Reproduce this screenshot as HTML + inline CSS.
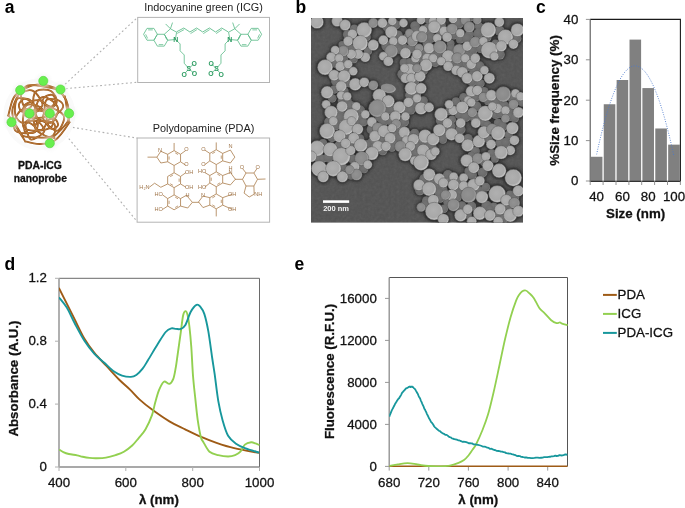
<!DOCTYPE html>
<html><head><meta charset="utf-8"><style>
html,body{margin:0;padding:0;background:#fff;width:685px;height:508px;overflow:hidden;}
svg{display:block;will-change:transform;}
text.t{stroke:#111;stroke-width:0.28px;}
</style></head><body>
<svg width="685" height="508" viewBox="0 0 685 508" font-family="Liberation Sans, sans-serif">
<text x="4.8" y="12.9" font-family="Liberation Sans, sans-serif" font-weight="bold" font-size="17.5" fill="#000">a</text>
<text x="295.6" y="12.9" font-family="Liberation Sans, sans-serif" font-weight="bold" font-size="17.5" fill="#000">b</text>
<text x="536" y="12.9" font-family="Liberation Sans, sans-serif" font-weight="bold" font-size="17.5" fill="#000">c</text>
<text x="4.6" y="269.7" font-family="Liberation Sans, sans-serif" font-weight="bold" font-size="17.5" fill="#000">d</text>
<text x="294.6" y="269.8" font-family="Liberation Sans, sans-serif" font-weight="bold" font-size="17.5" fill="#000">e</text>
<line x1="65.1" y1="84.2" x2="137.5" y2="17.5" stroke="#b0b0b0" stroke-width="1.1" stroke-dasharray="1.8 2.5"/>
<line x1="65.9" y1="88.6" x2="137.5" y2="82.3" stroke="#b0b0b0" stroke-width="1.1" stroke-dasharray="1.8 2.5"/>
<line x1="68.6" y1="126.7" x2="137.5" y2="138.2" stroke="#b0b0b0" stroke-width="1.1" stroke-dasharray="1.8 2.5"/>
<line x1="63.3" y1="132" x2="137.5" y2="222" stroke="#b0b0b0" stroke-width="1.1" stroke-dasharray="1.8 2.5"/>
<rect x="137.7" y="17.4" width="131.8" height="65.1" fill="#fff" stroke="#b4b4b4" stroke-width="1"/>
<rect x="137.1" y="138" width="132.5" height="84.2" fill="#fff" stroke="#b4b4b4" stroke-width="1"/>
<text x="203.5" y="11.4" font-family="Liberation Sans, sans-serif" font-size="10.85" fill="#222" text-anchor="middle">Indocyanine green (ICG)</text>
<text x="203.5" y="131.6" font-family="Liberation Sans, sans-serif" font-size="10.9" fill="#222" text-anchor="middle">Polydopamine (PDA)</text>
<text x="40" y="168.8" font-family="Liberation Sans, sans-serif" font-weight="bold" font-size="10.4" fill="#111" class="t" text-anchor="middle">PDA-ICG</text>
<text x="40.3" y="181.8" font-family="Liberation Sans, sans-serif" font-weight="bold" font-size="10.3" fill="#111" class="t" text-anchor="middle">nanoprobe</text>
<circle cx="39.4" cy="114.2" r="36.0" fill="#fafafa"/>
<circle cx="39.4" cy="114.2" r="32.0" fill="#fffefd"/>
<g fill="none"><path d="M40.9,144.0 C36.1,144.3 29.5,142.5 26.6,141.6 C23.8,140.8 26.6,143.1 23.8,139.0 C21.0,134.9 12.4,121.2 9.8,117.1 C7.3,113.0 7.9,117.8 8.6,114.5 C9.3,111.3 11.3,101.8 13.8,97.5 C16.4,93.1 21.0,90.3 23.9,88.2 C26.7,86.2 25.5,85.0 30.9,85.2 C36.3,85.3 50.7,87.3 56.2,89.3 C61.8,91.2 62.9,95.5 64.4,97.0 C65.8,98.4 64.5,94.1 65.2,98.0 C65.9,101.9 68.0,115.9 68.6,120.2 C69.1,124.5 70.8,120.4 68.5,123.7 C66.3,127.1 59.7,136.9 55.0,140.3 C50.4,143.6 45.6,143.8 40.9,144.0Z" stroke="#9a5518" stroke-width="1.85"/><path d="M63.7,96.1 C65.9,99.0 66.9,100.7 67.7,104.7 C68.5,108.8 70.6,115.1 68.4,120.4 C66.1,125.7 56.8,133.6 54.1,136.4 C51.5,139.3 57.2,137.6 52.4,137.7 C47.6,137.7 31.1,137.8 25.5,136.6 C20.0,135.5 21.2,133.4 19.1,130.6 C17.1,127.7 14.6,123.4 13.5,119.6 C12.5,115.8 11.5,112.4 12.8,107.7 C14.2,103.0 17.6,95.2 21.6,91.4 C25.6,87.5 31.3,85.2 36.7,84.6 C42.1,84.0 49.8,85.8 54.3,87.7 C58.8,89.7 61.4,93.3 63.7,96.1Z" stroke="#9a5518" stroke-width="1.85"/><path d="M49.2,107.9 C52.7,107.4 62.6,112.2 63.9,116.0 C65.2,119.8 60.4,130.3 57.0,130.8 C53.6,131.3 44.7,122.9 43.4,119.1 C42.1,115.3 45.8,108.4 49.2,107.9Z" stroke="#9a5518" stroke-width="1.85"/><path d="M53.4,123.1 C56.1,124.9 55.7,130.3 54.8,132.6 C54.0,134.9 51.5,137.3 48.3,136.8 C45.1,136.2 37.2,131.9 35.6,129.3 C34.1,126.8 35.9,122.5 38.8,121.4 C41.8,120.4 50.7,121.2 53.4,123.1Z" stroke="#9a5518" stroke-width="1.85"/><path d="M25.7,123.1 C26.7,120.8 31.4,120.4 33.8,120.5 C36.3,120.6 38.7,121.6 40.3,123.5 C42.0,125.4 45.4,129.2 44.0,131.9 C42.5,134.6 34.4,139.3 31.7,139.6 C29.0,140.0 28.8,136.9 27.8,134.1 C26.8,131.4 24.7,125.4 25.7,123.1Z" stroke="#9a5518" stroke-width="1.85"/><path d="M17.2,132.0 C13.6,130.4 13.0,125.1 14.0,121.3 C15.0,117.5 19.3,110.2 23.0,109.2 C26.8,108.3 34.4,112.1 36.4,115.8 C38.5,119.4 38.6,128.5 35.4,131.2 C32.2,133.9 20.8,133.7 17.2,132.0Z" stroke="#9a5518" stroke-width="1.85"/><path d="M17.3,98.9 C19.7,96.5 26.5,98.7 29.4,100.6 C32.4,102.6 36.0,107.0 35.1,110.6 C34.1,114.3 26.9,122.0 23.6,122.7 C20.3,123.5 16.4,118.9 15.3,115.0 C14.3,111.0 15.0,101.3 17.3,98.9Z" stroke="#9a5518" stroke-width="1.85"/><path d="M42.4,105.5 C41.4,108.7 30.6,111.9 27.1,110.1 C23.6,108.3 20.2,97.7 21.2,94.5 C22.2,91.3 29.5,89.0 33.0,90.9 C36.6,92.7 43.4,102.3 42.4,105.5Z" stroke="#9a5518" stroke-width="1.85"/><path d="M44.2,111.6 C40.4,111.8 35.0,107.4 33.7,103.9 C32.4,100.5 33.6,93.2 36.4,91.0 C39.3,88.9 47.6,89.0 51.0,91.0 C54.3,92.9 57.7,99.1 56.6,102.6 C55.4,106.0 48.0,111.4 44.2,111.6Z" stroke="#9a5518" stroke-width="1.85"/><path d="M47.5,99.4 C49.8,98.6 56.2,99.2 58.8,100.5 C61.4,101.8 63.6,104.7 63.1,107.0 C62.6,109.4 58.5,113.2 55.7,114.6 C52.9,116.0 48.0,116.9 46.1,115.4 C44.3,113.8 44.6,107.8 44.8,105.2 C45.1,102.5 45.2,100.2 47.5,99.4Z" stroke="#9a5518" stroke-width="1.85"/><path d="M51.8,126.3 C49.4,129.3 39.6,131.6 36.8,129.3 C33.9,127.1 32.3,116.0 34.6,112.9 C37.0,109.9 48.2,108.8 51.0,111.0 C53.9,113.2 54.2,123.2 51.8,126.3Z" stroke="#9a5518" stroke-width="1.85"/><path d="M41.8,129.9 C38.1,131.6 27.8,130.6 24.7,128.5 C21.6,126.4 22.8,121.3 23.2,117.4 C23.5,113.5 23.9,106.9 26.7,105.2 C29.5,103.4 36.6,104.7 39.9,106.9 C43.3,109.0 46.4,114.4 46.7,118.3 C47.0,122.1 45.4,128.2 41.8,129.9Z" stroke="#9a5518" stroke-width="1.85"/><path d="M45.4,116.6 C41.9,118.2 30.0,118.6 26.5,116.7 C23.0,114.8 22.5,108.0 24.5,105.3 C26.5,102.5 34.8,99.9 38.7,100.2 C42.6,100.6 46.5,104.7 47.6,107.5 C48.8,110.2 49.0,115.1 45.4,116.6Z" stroke="#9a5518" stroke-width="1.85"/><path d="M58.0,108.1 C58.9,112.3 54.7,120.6 51.6,122.5 C48.4,124.4 41.8,120.6 39.1,119.3 C36.5,117.9 35.8,117.5 35.7,114.5 C35.5,111.4 36.4,103.7 38.2,100.8 C39.9,98.0 42.8,96.0 46.2,97.3 C49.5,98.5 57.1,103.9 58.0,108.1Z" stroke="#9a5518" stroke-width="1.85"/><path d="M58.0,125.2 C57.7,126.8 55.0,128.5 53.5,128.8 C52.0,129.1 49.7,128.6 48.8,127.1 C48.0,125.5 47.3,121.1 48.4,119.8 C49.5,118.5 53.7,118.5 55.3,119.4 C56.9,120.3 58.3,123.7 58.0,125.2Z" stroke="#9a5518" stroke-width="1.85"/><path d="M24.7,125.9 C25.2,124.3 26.7,122.4 28.5,122.7 C30.3,122.9 34.5,125.9 35.4,127.5 C36.4,129.1 36.0,131.6 34.4,132.4 C32.7,133.2 27.2,133.3 25.6,132.3 C24.0,131.2 24.3,127.5 24.7,125.9Z" stroke="#9a5518" stroke-width="1.85"/><path d="M18.9,104.8 C19.2,102.7 22.0,99.5 23.9,98.8 C25.9,98.1 29.5,99.3 30.7,100.6 C31.9,101.8 32.7,104.5 31.3,106.3 C29.8,108.1 24.2,111.7 22.2,111.5 C20.1,111.2 18.7,106.9 18.9,104.8Z" stroke="#9a5518" stroke-width="1.85"/><path d="M55.3,100.3 C55.1,102.2 53.1,106.4 51.1,106.7 C49.0,107.0 44.1,103.8 43.1,102.2 C42.1,100.5 43.5,97.9 45.1,96.7 C46.6,95.5 50.4,94.3 52.1,94.9 C53.8,95.5 55.5,98.3 55.3,100.3Z" stroke="#9a5518" stroke-width="1.85"/><path d="M40.9,144.0 C36.1,144.3 29.5,142.5 26.6,141.6 C23.8,140.8 26.6,143.1 23.8,139.0 C21.0,134.9 12.4,121.2 9.8,117.1 C7.3,113.0 7.9,117.8 8.6,114.5 C9.3,111.3 11.3,101.8 13.8,97.5 C16.4,93.1 21.0,90.3 23.9,88.2 C26.7,86.2 25.5,85.0 30.9,85.2 C36.3,85.3 50.7,87.3 56.2,89.3 C61.8,91.2 62.9,95.5 64.4,97.0 C65.8,98.4 64.5,94.1 65.2,98.0 C65.9,101.9 68.0,115.9 68.6,120.2 C69.1,124.5 70.8,120.4 68.5,123.7 C66.3,127.1 59.7,136.9 55.0,140.3 C50.4,143.6 45.6,143.8 40.9,144.0Z" stroke="#c8894a" stroke-width="0.6"/><path d="M63.7,96.1 C65.9,99.0 66.9,100.7 67.7,104.7 C68.5,108.8 70.6,115.1 68.4,120.4 C66.1,125.7 56.8,133.6 54.1,136.4 C51.5,139.3 57.2,137.6 52.4,137.7 C47.6,137.7 31.1,137.8 25.5,136.6 C20.0,135.5 21.2,133.4 19.1,130.6 C17.1,127.7 14.6,123.4 13.5,119.6 C12.5,115.8 11.5,112.4 12.8,107.7 C14.2,103.0 17.6,95.2 21.6,91.4 C25.6,87.5 31.3,85.2 36.7,84.6 C42.1,84.0 49.8,85.8 54.3,87.7 C58.8,89.7 61.4,93.3 63.7,96.1Z" stroke="#c8894a" stroke-width="0.6"/><path d="M49.2,107.9 C52.7,107.4 62.6,112.2 63.9,116.0 C65.2,119.8 60.4,130.3 57.0,130.8 C53.6,131.3 44.7,122.9 43.4,119.1 C42.1,115.3 45.8,108.4 49.2,107.9Z" stroke="#c8894a" stroke-width="0.6"/><path d="M53.4,123.1 C56.1,124.9 55.7,130.3 54.8,132.6 C54.0,134.9 51.5,137.3 48.3,136.8 C45.1,136.2 37.2,131.9 35.6,129.3 C34.1,126.8 35.9,122.5 38.8,121.4 C41.8,120.4 50.7,121.2 53.4,123.1Z" stroke="#c8894a" stroke-width="0.6"/><path d="M25.7,123.1 C26.7,120.8 31.4,120.4 33.8,120.5 C36.3,120.6 38.7,121.6 40.3,123.5 C42.0,125.4 45.4,129.2 44.0,131.9 C42.5,134.6 34.4,139.3 31.7,139.6 C29.0,140.0 28.8,136.9 27.8,134.1 C26.8,131.4 24.7,125.4 25.7,123.1Z" stroke="#c8894a" stroke-width="0.6"/><path d="M17.2,132.0 C13.6,130.4 13.0,125.1 14.0,121.3 C15.0,117.5 19.3,110.2 23.0,109.2 C26.8,108.3 34.4,112.1 36.4,115.8 C38.5,119.4 38.6,128.5 35.4,131.2 C32.2,133.9 20.8,133.7 17.2,132.0Z" stroke="#c8894a" stroke-width="0.6"/><path d="M17.3,98.9 C19.7,96.5 26.5,98.7 29.4,100.6 C32.4,102.6 36.0,107.0 35.1,110.6 C34.1,114.3 26.9,122.0 23.6,122.7 C20.3,123.5 16.4,118.9 15.3,115.0 C14.3,111.0 15.0,101.3 17.3,98.9Z" stroke="#c8894a" stroke-width="0.6"/><path d="M42.4,105.5 C41.4,108.7 30.6,111.9 27.1,110.1 C23.6,108.3 20.2,97.7 21.2,94.5 C22.2,91.3 29.5,89.0 33.0,90.9 C36.6,92.7 43.4,102.3 42.4,105.5Z" stroke="#c8894a" stroke-width="0.6"/><path d="M44.2,111.6 C40.4,111.8 35.0,107.4 33.7,103.9 C32.4,100.5 33.6,93.2 36.4,91.0 C39.3,88.9 47.6,89.0 51.0,91.0 C54.3,92.9 57.7,99.1 56.6,102.6 C55.4,106.0 48.0,111.4 44.2,111.6Z" stroke="#c8894a" stroke-width="0.6"/><path d="M47.5,99.4 C49.8,98.6 56.2,99.2 58.8,100.5 C61.4,101.8 63.6,104.7 63.1,107.0 C62.6,109.4 58.5,113.2 55.7,114.6 C52.9,116.0 48.0,116.9 46.1,115.4 C44.3,113.8 44.6,107.8 44.8,105.2 C45.1,102.5 45.2,100.2 47.5,99.4Z" stroke="#c8894a" stroke-width="0.6"/><path d="M51.8,126.3 C49.4,129.3 39.6,131.6 36.8,129.3 C33.9,127.1 32.3,116.0 34.6,112.9 C37.0,109.9 48.2,108.8 51.0,111.0 C53.9,113.2 54.2,123.2 51.8,126.3Z" stroke="#c8894a" stroke-width="0.6"/><path d="M41.8,129.9 C38.1,131.6 27.8,130.6 24.7,128.5 C21.6,126.4 22.8,121.3 23.2,117.4 C23.5,113.5 23.9,106.9 26.7,105.2 C29.5,103.4 36.6,104.7 39.9,106.9 C43.3,109.0 46.4,114.4 46.7,118.3 C47.0,122.1 45.4,128.2 41.8,129.9Z" stroke="#c8894a" stroke-width="0.6"/><path d="M45.4,116.6 C41.9,118.2 30.0,118.6 26.5,116.7 C23.0,114.8 22.5,108.0 24.5,105.3 C26.5,102.5 34.8,99.9 38.7,100.2 C42.6,100.6 46.5,104.7 47.6,107.5 C48.8,110.2 49.0,115.1 45.4,116.6Z" stroke="#c8894a" stroke-width="0.6"/><path d="M58.0,108.1 C58.9,112.3 54.7,120.6 51.6,122.5 C48.4,124.4 41.8,120.6 39.1,119.3 C36.5,117.9 35.8,117.5 35.7,114.5 C35.5,111.4 36.4,103.7 38.2,100.8 C39.9,98.0 42.8,96.0 46.2,97.3 C49.5,98.5 57.1,103.9 58.0,108.1Z" stroke="#c8894a" stroke-width="0.6"/><path d="M58.0,125.2 C57.7,126.8 55.0,128.5 53.5,128.8 C52.0,129.1 49.7,128.6 48.8,127.1 C48.0,125.5 47.3,121.1 48.4,119.8 C49.5,118.5 53.7,118.5 55.3,119.4 C56.9,120.3 58.3,123.7 58.0,125.2Z" stroke="#c8894a" stroke-width="0.6"/><path d="M24.7,125.9 C25.2,124.3 26.7,122.4 28.5,122.7 C30.3,122.9 34.5,125.9 35.4,127.5 C36.4,129.1 36.0,131.6 34.4,132.4 C32.7,133.2 27.2,133.3 25.6,132.3 C24.0,131.2 24.3,127.5 24.7,125.9Z" stroke="#c8894a" stroke-width="0.6"/><path d="M18.9,104.8 C19.2,102.7 22.0,99.5 23.9,98.8 C25.9,98.1 29.5,99.3 30.7,100.6 C31.9,101.8 32.7,104.5 31.3,106.3 C29.8,108.1 24.2,111.7 22.2,111.5 C20.1,111.2 18.7,106.9 18.9,104.8Z" stroke="#c8894a" stroke-width="0.6"/><path d="M55.3,100.3 C55.1,102.2 53.1,106.4 51.1,106.7 C49.0,107.0 44.1,103.8 43.1,102.2 C42.1,100.5 43.5,97.9 45.1,96.7 C46.6,95.5 50.4,94.3 52.1,94.9 C53.8,95.5 55.5,98.3 55.3,100.3Z" stroke="#c8894a" stroke-width="0.6"/></g>
<circle cx="43.3" cy="80.9" r="7.5" fill="#f3f3f3" opacity="0.55" filter="url(#blur1)"/>
<circle cx="43.3" cy="80.9" r="4.6" fill="#68ef4e" stroke="#50d23a" stroke-width="0.6"/>
<circle cx="20.2" cy="90.2" r="7.5" fill="#f3f3f3" opacity="0.55" filter="url(#blur1)"/>
<circle cx="20.2" cy="90.2" r="4.6" fill="#68ef4e" stroke="#50d23a" stroke-width="0.6"/>
<circle cx="60.5" cy="89.5" r="7.5" fill="#f3f3f3" opacity="0.55" filter="url(#blur1)"/>
<circle cx="60.5" cy="89.5" r="4.6" fill="#68ef4e" stroke="#50d23a" stroke-width="0.6"/>
<circle cx="29.5" cy="113.4" r="7.5" fill="#f3f3f3" opacity="0.55" filter="url(#blur1)"/>
<circle cx="29.5" cy="113.4" r="4.6" fill="#68ef4e" stroke="#50d23a" stroke-width="0.6"/>
<circle cx="49.8" cy="113.4" r="7.5" fill="#f3f3f3" opacity="0.55" filter="url(#blur1)"/>
<circle cx="49.8" cy="113.4" r="4.6" fill="#68ef4e" stroke="#50d23a" stroke-width="0.6"/>
<circle cx="69.1" cy="113.4" r="7.5" fill="#f3f3f3" opacity="0.55" filter="url(#blur1)"/>
<circle cx="69.1" cy="113.4" r="4.6" fill="#68ef4e" stroke="#50d23a" stroke-width="0.6"/>
<circle cx="11.5" cy="122.2" r="7.5" fill="#f3f3f3" opacity="0.55" filter="url(#blur1)"/>
<circle cx="11.5" cy="122.2" r="4.6" fill="#68ef4e" stroke="#50d23a" stroke-width="0.6"/>
<circle cx="49.8" cy="143.2" r="7.5" fill="#f3f3f3" opacity="0.55" filter="url(#blur1)"/>
<circle cx="49.8" cy="143.2" r="4.6" fill="#68ef4e" stroke="#50d23a" stroke-width="0.6"/>
<path d="M143.58,34.29 L147.02,28.37 L153.91,28.37 L157.36,34.29 L153.91,40.22 L147.02,40.22 Z" fill="none" stroke="#5dbb8a" stroke-width="0.83" stroke-linejoin="round"/>
<path d="M157.36,34.29 L164.25,34.29 L167.69,40.22 L164.25,46.14 L157.36,46.14 L153.91,40.22 Z" fill="none" stroke="#5dbb8a" stroke-width="0.83" stroke-linejoin="round"/>
<path d="M164.25,34.29 L170.45,28.78 L176.65,32.22 L175.27,39.53 L167.69,40.22 Z" fill="none" stroke="#5dbb8a" stroke-width="0.83" stroke-linejoin="round"/>
<path d="M148.13,29.88 L152.81,29.88" fill="none" stroke="#5dbb8a" stroke-width="0.77" stroke-linejoin="round"/>
<path d="M145.65,34.29 L147.58,38.43" fill="none" stroke="#5dbb8a" stroke-width="0.77" stroke-linejoin="round"/>
<path d="M158.74,44.63 L163.28,44.63" fill="none" stroke="#5dbb8a" stroke-width="0.77" stroke-linejoin="round"/>
<path d="M165.21,35.67 L166.59,39.25" fill="none" stroke="#5dbb8a" stroke-width="0.77" stroke-linejoin="round"/>
<path d="M165.63,23.96 L170.45,28.78 L172.52,22.58" fill="none" stroke="#5dbb8a" stroke-width="0.83" stroke-linejoin="round"/>
<path d="M175.96,39.80 L180.10,43.94 L180.10,50.83 L184.23,54.96 L184.23,63.23 L188.36,68.05" fill="none" stroke="#5dbb8a" stroke-width="0.83" stroke-linejoin="round"/>
<path d="M189.47,68.05 L193.60,63.92" fill="none" stroke="#5dbb8a" stroke-width="0.83" stroke-linejoin="round"/>
<path d="M189.47,69.43 L193.60,72.88" fill="none" stroke="#5dbb8a" stroke-width="0.83" stroke-linejoin="round"/>
<path d="M188.36,69.43 L185.33,72.88" fill="none" stroke="#5dbb8a" stroke-width="0.83" stroke-linejoin="round"/>
<text x="175.7" y="42.3" font-family="Liberation Sans, sans-serif" font-weight="bold" font-size="6.9" fill="#2f9d63" text-anchor="middle">N</text>
<text x="188.9" y="71.4" font-family="Liberation Sans, sans-serif" font-weight="bold" font-size="6.9" fill="#2f9d63" text-anchor="middle">S</text>
<text x="194.2" y="65.8" font-family="Liberation Sans, sans-serif" font-weight="bold" font-size="6.9" fill="#2f9d63" text-anchor="middle">O</text>
<text x="194.5" y="76.2" font-family="Liberation Sans, sans-serif" font-weight="bold" font-size="6.9" fill="#2f9d63" text-anchor="middle">O</text>
<text x="184.3" y="76.8" font-family="Liberation Sans, sans-serif" font-weight="bold" font-size="6.9" fill="#2f9d63" text-anchor="middle">O</text>
<path d="M261.62,34.29 L258.18,28.37 L251.29,28.37 L247.84,34.29 L251.29,40.22 L258.18,40.22 Z" fill="none" stroke="#5dbb8a" stroke-width="0.83" stroke-linejoin="round"/>
<path d="M247.84,34.29 L240.95,34.29 L237.51,40.22 L240.95,46.14 L247.84,46.14 L251.29,40.22 Z" fill="none" stroke="#5dbb8a" stroke-width="0.83" stroke-linejoin="round"/>
<path d="M240.95,34.29 L234.75,28.78 L228.55,32.22 L229.93,39.53 L237.51,40.22 Z" fill="none" stroke="#5dbb8a" stroke-width="0.83" stroke-linejoin="round"/>
<path d="M257.07,29.88 L252.39,29.88" fill="none" stroke="#5dbb8a" stroke-width="0.77" stroke-linejoin="round"/>
<path d="M259.55,34.29 L257.62,38.43" fill="none" stroke="#5dbb8a" stroke-width="0.77" stroke-linejoin="round"/>
<path d="M246.46,44.63 L241.92,44.63" fill="none" stroke="#5dbb8a" stroke-width="0.77" stroke-linejoin="round"/>
<path d="M239.99,35.67 L238.61,39.25" fill="none" stroke="#5dbb8a" stroke-width="0.77" stroke-linejoin="round"/>
<path d="M239.57,23.96 L234.75,28.78 L232.68,22.58" fill="none" stroke="#5dbb8a" stroke-width="0.83" stroke-linejoin="round"/>
<path d="M229.24,39.80 L225.10,43.94 L225.10,50.83 L220.97,54.96 L220.97,63.23 L216.84,68.05" fill="none" stroke="#5dbb8a" stroke-width="0.83" stroke-linejoin="round"/>
<path d="M215.73,68.05 L211.60,63.92" fill="none" stroke="#5dbb8a" stroke-width="0.83" stroke-linejoin="round"/>
<path d="M215.73,69.43 L211.60,72.88" fill="none" stroke="#5dbb8a" stroke-width="0.83" stroke-linejoin="round"/>
<path d="M216.84,69.43 L219.87,72.88" fill="none" stroke="#5dbb8a" stroke-width="0.83" stroke-linejoin="round"/>
<text x="229.7" y="42.3" font-family="Liberation Sans, sans-serif" font-weight="bold" font-size="6.9" fill="#2f9d63" text-anchor="middle">N</text>
<text x="216.5" y="71.4" font-family="Liberation Sans, sans-serif" font-weight="bold" font-size="6.9" fill="#2f9d63" text-anchor="middle">S</text>
<text x="211.2" y="65.8" font-family="Liberation Sans, sans-serif" font-weight="bold" font-size="6.9" fill="#2f9d63" text-anchor="middle">O</text>
<text x="210.9" y="76.2" font-family="Liberation Sans, sans-serif" font-weight="bold" font-size="6.9" fill="#2f9d63" text-anchor="middle">O</text>
<text x="221.1" y="76.8" font-family="Liberation Sans, sans-serif" font-weight="bold" font-size="6.9" fill="#2f9d63" text-anchor="middle">O</text>
<path d="M176.60,31.80 L183.80,28.00 L189.90,32.00 L196.60,28.00 L202.70,32.00 L209.40,28.00 L215.50,32.00 L221.70,28.00 L228.40,32.00" fill="none" stroke="#5dbb8a" stroke-width="0.88" stroke-linejoin="round"/>
<path d="M177.20,33.40 L184.10,29.60" fill="none" stroke="#5dbb8a" stroke-width="0.77" stroke-linejoin="round"/>
<path d="M190.50,33.60 L196.90,29.60" fill="none" stroke="#5dbb8a" stroke-width="0.77" stroke-linejoin="round"/>
<path d="M203.30,33.60 L209.70,29.60" fill="none" stroke="#5dbb8a" stroke-width="0.77" stroke-linejoin="round"/>
<path d="M216.10,33.60 L222.00,29.60" fill="none" stroke="#5dbb8a" stroke-width="0.77" stroke-linejoin="round"/>
<path d="M174.10,165.48 L167.65,161.76 L167.65,154.32 L174.10,150.59 L180.55,154.32 L180.55,161.76 Z" fill="none" stroke="#ad8152" stroke-width="0.83" stroke-linejoin="round"/>
<path d="M174.10,187.63 L167.65,183.91 L167.65,176.47 L174.10,172.75 L180.55,176.47 L180.55,183.91 Z" fill="none" stroke="#ad8152" stroke-width="0.83" stroke-linejoin="round"/>
<path d="M174.10,209.78 L167.65,206.06 L167.65,198.62 L174.10,194.90 L180.55,198.62 L180.55,206.06 Z" fill="none" stroke="#ad8152" stroke-width="0.83" stroke-linejoin="round"/>
<path d="M169.07,159.66 L169.07,156.41" fill="none" stroke="#ad8152" stroke-width="0.77" stroke-linejoin="round"/>
<path d="M175.21,152.87 L178.02,154.50" fill="none" stroke="#ad8152" stroke-width="0.77" stroke-linejoin="round"/>
<path d="M172.99,185.36 L170.18,183.73" fill="none" stroke="#ad8152" stroke-width="0.77" stroke-linejoin="round"/>
<path d="M170.18,176.65 L172.99,175.02" fill="none" stroke="#ad8152" stroke-width="0.77" stroke-linejoin="round"/>
<path d="M179.13,178.56 L179.13,181.81" fill="none" stroke="#ad8152" stroke-width="0.77" stroke-linejoin="round"/>
<path d="M169.07,203.97 L169.07,200.71" fill="none" stroke="#ad8152" stroke-width="0.77" stroke-linejoin="round"/>
<path d="M175.21,197.17 L178.02,198.80" fill="none" stroke="#ad8152" stroke-width="0.77" stroke-linejoin="round"/>
<path d="M178.02,205.88 L175.21,207.51" fill="none" stroke="#ad8152" stroke-width="0.77" stroke-linejoin="round"/>
<path d="M212.33,153.59 L215.14,151.97" fill="none" stroke="#ad8152" stroke-width="0.77" stroke-linejoin="round"/>
<path d="M221.27,155.50 L221.27,158.75" fill="none" stroke="#ad8152" stroke-width="0.77" stroke-linejoin="round"/>
<path d="M211.22,180.88 L211.22,177.63" fill="none" stroke="#ad8152" stroke-width="0.77" stroke-linejoin="round"/>
<path d="M217.35,174.09 L220.16,175.72" fill="none" stroke="#ad8152" stroke-width="0.77" stroke-linejoin="round"/>
<path d="M220.16,182.79 L217.35,184.42" fill="none" stroke="#ad8152" stroke-width="0.77" stroke-linejoin="round"/>
<path d="M215.14,206.54 L212.33,204.92" fill="none" stroke="#ad8152" stroke-width="0.77" stroke-linejoin="round"/>
<path d="M212.33,197.85 L215.14,196.22" fill="none" stroke="#ad8152" stroke-width="0.77" stroke-linejoin="round"/>
<path d="M221.27,199.76 L221.27,203.01" fill="none" stroke="#ad8152" stroke-width="0.77" stroke-linejoin="round"/>
<path d="M167.72,154.32 L160.81,151.30 L156.91,157.15 L160.81,163.00 L167.72,161.76" fill="none" stroke="#ad8152" stroke-width="0.83" stroke-linejoin="round"/>
<path d="M147.52,157.15 L156.91,157.15" fill="none" stroke="#ad8152" stroke-width="0.83" stroke-linejoin="round"/>
<path d="M174.10,150.59 L174.10,142.97" fill="none" stroke="#ad8152" stroke-width="0.83" stroke-linejoin="round"/>
<path d="M180.48,154.32 L185.62,150.59" fill="none" stroke="#ad8152" stroke-width="0.83" stroke-linejoin="round"/>
<path d="M180.48,161.76 L185.62,165.13" fill="none" stroke="#ad8152" stroke-width="0.83" stroke-linejoin="round"/>
<path d="M174.10,165.48 L174.10,172.75" fill="none" stroke="#ad8152" stroke-width="0.83" stroke-linejoin="round"/>
<path d="M174.10,187.63 L174.10,194.90" fill="none" stroke="#ad8152" stroke-width="0.83" stroke-linejoin="round"/>
<path d="M180.48,176.47 L185.97,172.57" fill="none" stroke="#ad8152" stroke-width="0.83" stroke-linejoin="round"/>
<path d="M180.48,183.91 L185.97,187.28" fill="none" stroke="#ad8152" stroke-width="0.83" stroke-linejoin="round"/>
<path d="M167.72,183.91 L160.81,187.28 L154.61,183.20 L149.29,187.28" fill="none" stroke="#ad8152" stroke-width="0.83" stroke-linejoin="round"/>
<path d="M167.72,198.62 L162.58,194.90" fill="none" stroke="#ad8152" stroke-width="0.83" stroke-linejoin="round"/>
<path d="M167.72,206.06 L162.58,209.43" fill="none" stroke="#ad8152" stroke-width="0.83" stroke-linejoin="round"/>
<path d="M180.48,198.62 L186.51,195.25 L192.35,202.34 L187.75,208.01 L180.48,206.06" fill="none" stroke="#ad8152" stroke-width="0.83" stroke-linejoin="round"/>
<path d="M192.35,202.34 L198.91,202.34" fill="none" stroke="#ad8152" stroke-width="0.83" stroke-linejoin="round"/>
<path d="M216.24,164.56 L209.80,160.85 L209.80,153.41 L216.24,149.69 L222.68,153.41 L222.68,160.85 Z" fill="none" stroke="#ad8152" stroke-width="0.83" stroke-linejoin="round"/>
<path d="M216.24,186.69 L209.80,182.97 L209.80,175.54 L216.24,171.82 L222.68,175.54 L222.68,182.97 Z" fill="none" stroke="#ad8152" stroke-width="0.83" stroke-linejoin="round"/>
<path d="M216.24,208.82 L209.80,205.10 L209.80,197.67 L216.24,193.95 L222.68,197.67 L222.68,205.10 Z" fill="none" stroke="#ad8152" stroke-width="0.83" stroke-linejoin="round"/>
<path d="M222.62,153.41 L230.40,150.05 L234.83,157.13 L230.40,162.97 L222.62,160.85" fill="none" stroke="#ad8152" stroke-width="0.83" stroke-linejoin="round"/>
<path d="M209.87,153.41 L204.74,150.05" fill="none" stroke="#ad8152" stroke-width="0.83" stroke-linejoin="round"/>
<path d="M209.87,160.85 L204.74,164.74" fill="none" stroke="#ad8152" stroke-width="0.83" stroke-linejoin="round"/>
<path d="M216.24,149.69 L216.24,142.43" fill="none" stroke="#ad8152" stroke-width="0.83" stroke-linejoin="round"/>
<path d="M216.24,164.56 L216.24,171.82" fill="none" stroke="#ad8152" stroke-width="0.83" stroke-linejoin="round"/>
<path d="M222.62,175.54 L230.40,172.53 L235.36,179.26 L230.40,184.92 L222.62,182.97" fill="none" stroke="#ad8152" stroke-width="0.83" stroke-linejoin="round"/>
<path d="M209.87,175.54 L204.74,172.53" fill="none" stroke="#ad8152" stroke-width="0.83" stroke-linejoin="round"/>
<path d="M209.87,182.97 L204.74,187.22" fill="none" stroke="#ad8152" stroke-width="0.83" stroke-linejoin="round"/>
<path d="M216.24,186.69 L216.24,193.95" fill="none" stroke="#ad8152" stroke-width="0.83" stroke-linejoin="round"/>
<path d="M216.24,208.82 L216.24,216.43" fill="none" stroke="#ad8152" stroke-width="0.83" stroke-linejoin="round"/>
<path d="M235.36,179.26 L235.00,179.30" fill="none" stroke="#ad8152" stroke-width="0.83" stroke-linejoin="round"/>
<path d="M246.00,173.00 L253.90,173.00 L257.50,179.30 L253.90,186.00 L246.00,186.00 L242.50,179.30 Z" fill="none" stroke="#ad8152" stroke-width="0.83" stroke-linejoin="round"/>
<path d="M246.00,173.00 L242.60,168.60" fill="none" stroke="#ad8152" stroke-width="0.83" stroke-linejoin="round"/>
<path d="M253.90,173.00 L257.00,168.60" fill="none" stroke="#ad8152" stroke-width="0.83" stroke-linejoin="round"/>
<path d="M242.50,179.30 L235.00,179.30" fill="none" stroke="#ad8152" stroke-width="0.83" stroke-linejoin="round"/>
<path d="M257.50,179.30 L265.50,179.00" fill="none" stroke="#ad8152" stroke-width="0.83" stroke-linejoin="round"/>
<path d="M246.00,186.00 L244.10,193.10 L249.20,197.00 L254.20,194.20 L253.90,186.00" fill="none" stroke="#ad8152" stroke-width="0.83" stroke-linejoin="round"/>
<path d="M222.62,197.67 L232.17,194.30" fill="none" stroke="#ad8152" stroke-width="0.83" stroke-linejoin="round"/>
<path d="M222.62,205.10 L232.17,209.35" fill="none" stroke="#ad8152" stroke-width="0.83" stroke-linejoin="round"/>
<path d="M209.87,197.67 L202.97,196.07 L198.54,201.91 L202.97,207.58 L209.87,205.10" fill="none" stroke="#ad8152" stroke-width="0.83" stroke-linejoin="round"/>
<text x="186.5" y="151.3" font-family="Liberation Sans, sans-serif" font-size="5.6" fill="#a0754a" text-anchor="middle">O</text>
<text x="186.5" y="166.4" font-family="Liberation Sans, sans-serif" font-size="5.6" fill="#a0754a" text-anchor="middle">O</text>
<text x="159.9" y="152.4" font-family="Liberation Sans, sans-serif" font-size="5.6" fill="#a0754a" text-anchor="middle">N</text>
<text x="189.2" y="173.6" font-family="Liberation Sans, sans-serif" font-size="5.6" fill="#a0754a" text-anchor="middle">OH</text>
<text x="189.2" y="188.5" font-family="Liberation Sans, sans-serif" font-size="5.6" fill="#a0754a" text-anchor="middle">OH</text>
<text x="144.5" y="188.5" font-family="Liberation Sans, sans-serif" font-size="5.6" fill="#a0754a" text-anchor="middle">H₂N</text>
<text x="158.7" y="196.0" font-family="Liberation Sans, sans-serif" font-size="5.6" fill="#a0754a" text-anchor="middle">HO</text>
<text x="158.7" y="210.7" font-family="Liberation Sans, sans-serif" font-size="5.6" fill="#a0754a" text-anchor="middle">HO</text>
<text x="187.4" y="197.0" font-family="Liberation Sans, sans-serif" font-size="5.6" fill="#a0754a" text-anchor="middle">H</text>
<text x="203.5" y="151.3" font-family="Liberation Sans, sans-serif" font-size="5.6" fill="#a0754a" text-anchor="middle">O</text>
<text x="203.5" y="166.0" font-family="Liberation Sans, sans-serif" font-size="5.6" fill="#a0754a" text-anchor="middle">O</text>
<text x="230.4" y="148.3" font-family="Liberation Sans, sans-serif" font-size="5.6" fill="#a0754a" text-anchor="middle">N</text>
<text x="202.1" y="173.4" font-family="Liberation Sans, sans-serif" font-size="5.6" fill="#a0754a" text-anchor="middle">HO</text>
<text x="202.1" y="188.5" font-family="Liberation Sans, sans-serif" font-size="5.6" fill="#a0754a" text-anchor="middle">HO</text>
<text x="230.4" y="170.4" font-family="Liberation Sans, sans-serif" font-size="5.6" fill="#a0754a" text-anchor="middle">H</text>
<text x="230.4" y="174.3" font-family="Liberation Sans, sans-serif" font-size="5.6" fill="#a0754a" text-anchor="middle">N</text>
<text x="232.2" y="195.5" font-family="Liberation Sans, sans-serif" font-size="5.6" fill="#a0754a" text-anchor="middle">OH</text>
<text x="232.2" y="210.6" font-family="Liberation Sans, sans-serif" font-size="5.6" fill="#a0754a" text-anchor="middle">OH</text>
<text x="203.0" y="197.0" font-family="Liberation Sans, sans-serif" font-size="5.6" fill="#a0754a" text-anchor="middle">N</text>
<text x="242.0" y="168.6" font-family="Liberation Sans, sans-serif" font-size="5.6" fill="#a0754a" text-anchor="middle">O</text>
<text x="257.6" y="168.6" font-family="Liberation Sans, sans-serif" font-size="5.6" fill="#a0754a" text-anchor="middle">O</text>
<text x="258.2" y="196.0" font-family="Liberation Sans, sans-serif" font-size="5.6" fill="#a0754a" text-anchor="middle">NH</text>
<defs><clipPath id="semclip"><rect x="311" y="18" width="212" height="204.8"/></clipPath><radialGradient id="pg" cx="0.45" cy="0.45" r="0.58"><stop offset="0" stop-color="#b0b0b0"/><stop offset="0.7" stop-color="#a8a8a8"/><stop offset="0.93" stop-color="#cdcdcd"/><stop offset="1" stop-color="#b4b4b4"/></radialGradient><radialGradient id="pg2" cx="0.45" cy="0.45" r="0.58"><stop offset="0" stop-color="#929292"/><stop offset="0.7" stop-color="#8a8a8a"/><stop offset="0.93" stop-color="#aaaaaa"/><stop offset="1" stop-color="#989898"/></radialGradient><radialGradient id="pg3" cx="0.42" cy="0.4" r="0.62"><stop offset="0" stop-color="#747474"/><stop offset="0.8" stop-color="#6a6a6a"/><stop offset="1" stop-color="#888888"/></radialGradient><filter id="blur1" x="-20%" y="-20%" width="140%" height="140%"><feGaussianBlur stdDeviation="1.6"/></filter><filter id="noise" x="0" y="0" width="100%" height="100%"><feTurbulence type="fractalNoise" baseFrequency="0.35" numOctaves="2" seed="3"/><feColorMatrix type="saturate" values="0"/></filter><filter id="blur05"><feGaussianBlur stdDeviation="0.55"/></filter></defs>
<g clip-path="url(#semclip)"><rect x="311" y="18" width="212" height="204.8" fill="#525252"/><rect x="311" y="18" width="212" height="204.8" filter="url(#noise)" opacity="0.10"/><g filter="url(#blur1)"><circle cx="317.0" cy="22.0" r="8.0" fill="#262626"/><circle cx="337.1" cy="21.0" r="6.6" fill="#262626"/><circle cx="345.1" cy="25.0" r="6.6" fill="#262626"/><circle cx="352.2" cy="34.1" r="5.8" fill="#262626"/><circle cx="348.1" cy="41.1" r="5.8" fill="#262626"/><circle cx="364.2" cy="30.0" r="9.3" fill="#262626"/><circle cx="360.2" cy="43.1" r="9.3" fill="#262626"/><circle cx="373.2" cy="23.0" r="5.8" fill="#262626"/><circle cx="382.3" cy="23.0" r="5.8" fill="#262626"/><circle cx="391.3" cy="32.1" r="7.4" fill="#262626"/><circle cx="392.3" cy="21.0" r="5.3" fill="#262626"/><circle cx="403.4" cy="23.0" r="5.3" fill="#262626"/><circle cx="409.4" cy="33.1" r="5.3" fill="#262626"/><circle cx="412.4" cy="41.1" r="6.6" fill="#262626"/><circle cx="402.4" cy="40.1" r="5.8" fill="#262626"/><circle cx="383.3" cy="40.1" r="5.8" fill="#262626"/><circle cx="393.3" cy="41.1" r="5.3" fill="#262626"/><circle cx="373.2" cy="45.1" r="6.6" fill="#262626"/><circle cx="391.3" cy="51.1" r="8.0" fill="#262626"/><circle cx="405.4" cy="53.1" r="6.6" fill="#262626"/><circle cx="383.3" cy="56.2" r="5.3" fill="#262626"/><circle cx="388.3" cy="61.2" r="5.8" fill="#262626"/><circle cx="365.2" cy="57.2" r="5.8" fill="#262626"/><circle cx="358.2" cy="54.1" r="5.8" fill="#262626"/><circle cx="351.2" cy="54.1" r="5.8" fill="#262626"/><circle cx="343.1" cy="51.1" r="6.6" fill="#262626"/><circle cx="335.1" cy="50.1" r="5.3" fill="#262626"/><circle cx="331.1" cy="57.2" r="5.8" fill="#262626"/><circle cx="339.1" cy="58.2" r="5.3" fill="#262626"/><circle cx="325.1" cy="67.2" r="9.3" fill="#262626"/><circle cx="340.1" cy="66.2" r="5.8" fill="#262626"/><circle cx="348.1" cy="64.2" r="5.3" fill="#262626"/><circle cx="353.2" cy="71.2" r="5.3" fill="#262626"/><circle cx="334.1" cy="75.2" r="6.6" fill="#262626"/><circle cx="344.1" cy="76.2" r="7.4" fill="#262626"/><circle cx="355.2" cy="84.3" r="7.4" fill="#262626"/><circle cx="341.1" cy="86.3" r="6.6" fill="#262626"/><circle cx="364.2" cy="82.3" r="5.8" fill="#262626"/><circle cx="373.2" cy="85.3" r="5.8" fill="#262626"/><circle cx="327.1" cy="92.3" r="7.4" fill="#262626"/><circle cx="341.1" cy="95.3" r="5.3" fill="#262626"/><circle cx="347.1" cy="96.3" r="5.3" fill="#262626"/><circle cx="379.3" cy="95.3" r="8.0" fill="#262626"/><circle cx="388.3" cy="101.3" r="7.4" fill="#262626"/><circle cx="326.1" cy="104.3" r="5.3" fill="#262626"/><circle cx="342.1" cy="106.4" r="6.6" fill="#262626"/><circle cx="356.2" cy="106.4" r="5.3" fill="#262626"/><circle cx="377.3" cy="108.4" r="10.6" fill="#262626"/><circle cx="331.1" cy="112.4" r="8.0" fill="#262626"/><circle cx="351.2" cy="116.4" r="9.3" fill="#262626"/><circle cx="365.2" cy="114.4" r="5.3" fill="#262626"/><circle cx="399.4" cy="107.4" r="7.4" fill="#262626"/><circle cx="408.4" cy="102.3" r="5.8" fill="#262626"/><circle cx="409.4" cy="70.2" r="8.0" fill="#262626"/><circle cx="405.4" cy="78.2" r="5.8" fill="#262626"/><circle cx="411.4" cy="78.2" r="5.8" fill="#262626"/><circle cx="411.4" cy="88.3" r="8.0" fill="#262626"/><circle cx="404.4" cy="68.2" r="5.3" fill="#262626"/><circle cx="415.4" cy="58.2" r="5.3" fill="#262626"/><circle cx="385.3" cy="116.4" r="5.3" fill="#262626"/><circle cx="395.3" cy="116.4" r="6.6" fill="#262626"/><circle cx="405.4" cy="116.4" r="5.3" fill="#262626"/><circle cx="421.0" cy="20.0" r="5.3" fill="#262626"/><circle cx="433.1" cy="21.0" r="5.3" fill="#262626"/><circle cx="441.1" cy="20.0" r="5.8" fill="#262626"/><circle cx="453.1" cy="19.0" r="5.3" fill="#262626"/><circle cx="465.2" cy="20.0" r="5.8" fill="#262626"/><circle cx="477.2" cy="20.0" r="5.3" fill="#262626"/><circle cx="423.0" cy="30.0" r="5.3" fill="#262626"/><circle cx="417.0" cy="36.1" r="6.6" fill="#262626"/><circle cx="422.0" cy="37.1" r="6.6" fill="#262626"/><circle cx="434.1" cy="27.0" r="7.4" fill="#262626"/><circle cx="444.1" cy="31.1" r="5.8" fill="#262626"/><circle cx="452.1" cy="29.0" r="6.6" fill="#262626"/><circle cx="460.2" cy="33.1" r="5.3" fill="#262626"/><circle cx="469.2" cy="27.0" r="6.6" fill="#262626"/><circle cx="488.3" cy="30.0" r="9.3" fill="#262626"/><circle cx="499.3" cy="22.0" r="5.8" fill="#262626"/><circle cx="505.4" cy="37.1" r="9.3" fill="#262626"/><circle cx="517.4" cy="30.0" r="8.0" fill="#262626"/><circle cx="513.4" cy="44.1" r="5.8" fill="#262626"/><circle cx="437.1" cy="38.1" r="5.3" fill="#262626"/><circle cx="447.1" cy="37.1" r="5.8" fill="#262626"/><circle cx="429.0" cy="48.1" r="6.6" fill="#262626"/><circle cx="440.1" cy="47.1" r="8.0" fill="#262626"/><circle cx="448.1" cy="56.2" r="7.4" fill="#262626"/><circle cx="459.2" cy="50.1" r="7.4" fill="#262626"/><circle cx="467.2" cy="46.1" r="5.8" fill="#262626"/><circle cx="475.2" cy="42.1" r="6.6" fill="#262626"/><circle cx="483.3" cy="41.1" r="5.3" fill="#262626"/><circle cx="489.3" cy="50.1" r="10.1" fill="#262626"/><circle cx="501.3" cy="46.1" r="6.6" fill="#262626"/><circle cx="494.3" cy="56.2" r="5.3" fill="#262626"/><circle cx="419.0" cy="48.1" r="5.3" fill="#262626"/><circle cx="417.0" cy="54.1" r="5.8" fill="#262626"/><circle cx="427.0" cy="58.2" r="5.8" fill="#262626"/><circle cx="433.1" cy="58.2" r="5.3" fill="#262626"/><circle cx="426.0" cy="65.2" r="7.4" fill="#262626"/><circle cx="420.0" cy="76.2" r="6.6" fill="#262626"/><circle cx="417.0" cy="68.2" r="5.3" fill="#262626"/><circle cx="441.1" cy="61.2" r="5.3" fill="#262626"/><circle cx="448.1" cy="66.2" r="5.8" fill="#262626"/><circle cx="457.2" cy="58.2" r="6.6" fill="#262626"/><circle cx="465.2" cy="58.2" r="5.3" fill="#262626"/><circle cx="471.2" cy="64.2" r="5.8" fill="#262626"/><circle cx="475.2" cy="58.2" r="5.8" fill="#262626"/><circle cx="456.2" cy="70.2" r="5.8" fill="#262626"/><circle cx="462.2" cy="72.2" r="6.6" fill="#262626"/><circle cx="467.2" cy="78.2" r="6.6" fill="#262626"/><circle cx="477.2" cy="76.2" r="6.6" fill="#262626"/><circle cx="489.3" cy="78.2" r="6.6" fill="#262626"/><circle cx="484.3" cy="70.2" r="5.3" fill="#262626"/><circle cx="421.0" cy="88.3" r="6.6" fill="#262626"/><circle cx="417.0" cy="98.3" r="5.3" fill="#262626"/><circle cx="471.2" cy="91.3" r="6.6" fill="#262626"/><circle cx="477.2" cy="90.3" r="5.8" fill="#262626"/><circle cx="483.3" cy="97.3" r="5.8" fill="#262626"/><circle cx="491.3" cy="95.3" r="6.6" fill="#262626"/><circle cx="503.3" cy="94.3" r="9.3" fill="#262626"/><circle cx="515.4" cy="93.3" r="5.3" fill="#262626"/><circle cx="520.4" cy="96.3" r="5.3" fill="#262626"/><circle cx="468.2" cy="100.3" r="5.3" fill="#262626"/><circle cx="421.0" cy="108.4" r="7.4" fill="#262626"/><circle cx="429.0" cy="107.4" r="5.8" fill="#262626"/><circle cx="441.1" cy="114.4" r="8.0" fill="#262626"/><circle cx="453.1" cy="110.4" r="5.8" fill="#262626"/><circle cx="462.2" cy="107.4" r="7.4" fill="#262626"/><circle cx="472.2" cy="112.4" r="5.8" fill="#262626"/><circle cx="485.3" cy="113.4" r="9.3" fill="#262626"/><circle cx="497.3" cy="108.4" r="5.8" fill="#262626"/><circle cx="505.4" cy="110.4" r="5.3" fill="#262626"/><circle cx="513.4" cy="104.3" r="5.8" fill="#262626"/><circle cx="518.4" cy="112.4" r="6.6" fill="#262626"/><circle cx="449.1" cy="104.3" r="5.3" fill="#262626"/><circle cx="471.2" cy="102.3" r="5.3" fill="#262626"/><circle cx="492.3" cy="106.4" r="5.3" fill="#262626"/><circle cx="505.4" cy="118.4" r="5.3" fill="#262626"/><circle cx="327.2" cy="131.1" r="9.4" fill="#262626"/><circle cx="346.5" cy="127.1" r="9.4" fill="#262626"/><circle cx="357.6" cy="129.1" r="6.7" fill="#262626"/><circle cx="339.4" cy="136.2" r="7.5" fill="#262626"/><circle cx="333.3" cy="121.0" r="5.4" fill="#262626"/><circle cx="351.5" cy="121.0" r="5.4" fill="#262626"/><circle cx="317.1" cy="148.4" r="9.4" fill="#262626"/><circle cx="330.3" cy="149.4" r="8.6" fill="#262626"/><circle cx="341.4" cy="156.5" r="10.7" fill="#262626"/><circle cx="353.6" cy="138.2" r="6.7" fill="#262626"/><circle cx="360.7" cy="145.3" r="8.0" fill="#262626"/><circle cx="350.5" cy="150.4" r="5.9" fill="#262626"/><circle cx="345.5" cy="143.3" r="5.9" fill="#262626"/><circle cx="371.8" cy="122.0" r="5.9" fill="#262626"/><circle cx="377.9" cy="128.1" r="6.7" fill="#262626"/><circle cx="374.8" cy="136.2" r="6.7" fill="#262626"/><circle cx="384.0" cy="131.1" r="7.5" fill="#262626"/><circle cx="390.0" cy="138.2" r="6.7" fill="#262626"/><circle cx="396.1" cy="124.1" r="5.9" fill="#262626"/><circle cx="392.1" cy="128.1" r="5.4" fill="#262626"/><circle cx="404.2" cy="132.2" r="6.7" fill="#262626"/><circle cx="406.3" cy="140.3" r="5.4" fill="#262626"/><circle cx="413.4" cy="139.3" r="6.7" fill="#262626"/><circle cx="377.9" cy="146.3" r="6.7" fill="#262626"/><circle cx="386.0" cy="146.3" r="5.9" fill="#262626"/><circle cx="400.2" cy="146.3" r="6.7" fill="#262626"/><circle cx="410.3" cy="146.3" r="5.9" fill="#262626"/><circle cx="371.8" cy="153.4" r="8.0" fill="#262626"/><circle cx="361.7" cy="158.5" r="8.6" fill="#262626"/><circle cx="367.7" cy="164.6" r="5.4" fill="#262626"/><circle cx="405.2" cy="154.5" r="8.0" fill="#262626"/><circle cx="414.4" cy="160.5" r="5.4" fill="#262626"/><circle cx="311.0" cy="156.5" r="6.7" fill="#262626"/><circle cx="319.1" cy="168.6" r="9.4" fill="#262626"/><circle cx="333.3" cy="168.6" r="9.4" fill="#262626"/><circle cx="323.2" cy="176.7" r="6.7" fill="#262626"/><circle cx="342.4" cy="176.7" r="6.7" fill="#262626"/><circle cx="354.6" cy="166.6" r="5.9" fill="#262626"/><circle cx="356.6" cy="174.7" r="6.7" fill="#262626"/><circle cx="349.5" cy="169.7" r="5.4" fill="#262626"/><circle cx="416.8" cy="186.9" r="3.7" fill="#262626"/><circle cx="425.1" cy="136.2" r="8.0" fill="#262626"/><circle cx="433.2" cy="139.3" r="7.5" fill="#262626"/><circle cx="423.1" cy="150.4" r="7.5" fill="#262626"/><circle cx="431.2" cy="154.5" r="6.7" fill="#262626"/><circle cx="421.1" cy="162.6" r="9.4" fill="#262626"/><circle cx="435.2" cy="151.4" r="5.4" fill="#262626"/><circle cx="439.3" cy="130.1" r="7.5" fill="#262626"/><circle cx="451.5" cy="134.2" r="7.5" fill="#262626"/><circle cx="459.6" cy="138.2" r="5.9" fill="#262626"/><circle cx="467.7" cy="145.3" r="7.5" fill="#262626"/><circle cx="478.8" cy="141.3" r="7.5" fill="#262626"/><circle cx="447.4" cy="123.0" r="5.9" fill="#262626"/><circle cx="460.6" cy="123.0" r="5.9" fill="#262626"/><circle cx="483.9" cy="132.2" r="7.5" fill="#262626"/><circle cx="492.0" cy="129.1" r="6.7" fill="#262626"/><circle cx="498.1" cy="133.2" r="8.6" fill="#262626"/><circle cx="475.8" cy="123.0" r="5.9" fill="#262626"/><circle cx="512.3" cy="128.1" r="7.5" fill="#262626"/><circle cx="514.3" cy="140.3" r="5.9" fill="#262626"/><circle cx="510.2" cy="150.4" r="5.9" fill="#262626"/><circle cx="501.1" cy="152.4" r="8.0" fill="#262626"/><circle cx="491.0" cy="144.3" r="5.9" fill="#262626"/><circle cx="466.7" cy="160.5" r="7.5" fill="#262626"/><circle cx="477.8" cy="158.5" r="6.7" fill="#262626"/><circle cx="485.9" cy="156.5" r="5.4" fill="#262626"/><circle cx="473.7" cy="167.6" r="6.7" fill="#262626"/><circle cx="487.9" cy="165.6" r="6.7" fill="#262626"/><circle cx="499.1" cy="170.7" r="8.6" fill="#262626"/><circle cx="513.3" cy="177.8" r="10.2" fill="#262626"/><circle cx="518.3" cy="190.9" r="6.7" fill="#262626"/><circle cx="429.2" cy="174.7" r="7.5" fill="#262626"/><circle cx="439.3" cy="178.8" r="6.7" fill="#262626"/><circle cx="453.5" cy="176.7" r="5.4" fill="#262626"/><circle cx="463.6" cy="177.8" r="5.4" fill="#262626"/><circle cx="419.0" cy="184.9" r="6.7" fill="#262626"/><circle cx="429.2" cy="188.9" r="8.6" fill="#262626"/><circle cx="443.3" cy="182.8" r="5.9" fill="#262626"/><circle cx="453.5" cy="184.9" r="6.7" fill="#262626"/><circle cx="463.6" cy="185.9" r="5.9" fill="#262626"/><circle cx="473.7" cy="184.9" r="7.5" fill="#262626"/><circle cx="479.8" cy="180.8" r="5.9" fill="#262626"/><circle cx="451.5" cy="195.0" r="6.7" fill="#262626"/><circle cx="468.7" cy="195.0" r="9.4" fill="#262626"/><circle cx="481.9" cy="197.0" r="7.5" fill="#262626"/><circle cx="497.1" cy="194.0" r="10.2" fill="#262626"/><circle cx="506.2" cy="200.1" r="6.7" fill="#262626"/><circle cx="514.3" cy="203.1" r="6.7" fill="#262626"/><circle cx="445.4" cy="195.0" r="5.9" fill="#262626"/><circle cx="433.2" cy="200.1" r="6.7" fill="#262626"/><circle cx="434.2" cy="211.2" r="10.7" fill="#262626"/><circle cx="453.5" cy="205.1" r="7.5" fill="#262626"/><circle cx="460.6" cy="215.3" r="7.5" fill="#262626"/><circle cx="467.7" cy="209.2" r="5.9" fill="#262626"/><circle cx="479.8" cy="213.2" r="8.0" fill="#262626"/><circle cx="490.0" cy="215.3" r="6.7" fill="#262626"/><circle cx="500.1" cy="209.2" r="6.7" fill="#262626"/><circle cx="510.2" cy="215.3" r="8.0" fill="#262626"/><circle cx="518.3" cy="211.2" r="6.7" fill="#262626"/><circle cx="421.1" cy="207.2" r="5.4" fill="#262626"/><circle cx="443.3" cy="219.3" r="6.7" fill="#262626"/><circle cx="471.7" cy="221.3" r="5.9" fill="#262626"/><circle cx="498.1" cy="221.3" r="5.9" fill="#262626"/><circle cx="427.8" cy="18.2" r="6.0" fill="#262626"/><circle cx="469.9" cy="16.7" r="5.9" fill="#262626"/><circle cx="458.8" cy="23.3" r="6.2" fill="#262626"/><circle cx="386.9" cy="26.7" r="5.5" fill="#262626"/><circle cx="395.9" cy="24.8" r="5.5" fill="#262626"/><circle cx="415.0" cy="26.0" r="5.7" fill="#262626"/><circle cx="428.1" cy="27.3" r="5.0" fill="#262626"/><circle cx="441.7" cy="25.2" r="4.7" fill="#262626"/><circle cx="478.8" cy="26.0" r="5.1" fill="#262626"/><circle cx="354.3" cy="28.9" r="5.4" fill="#262626"/><circle cx="416.0" cy="30.6" r="5.6" fill="#262626"/><circle cx="499.5" cy="30.6" r="6.0" fill="#262626"/><circle cx="347.4" cy="34.5" r="5.4" fill="#262626"/><circle cx="398.3" cy="34.7" r="5.1" fill="#262626"/><circle cx="428.2" cy="33.1" r="6.2" fill="#262626"/><circle cx="440.4" cy="33.8" r="5.0" fill="#262626"/><circle cx="453.9" cy="35.0" r="5.4" fill="#262626"/><circle cx="469.5" cy="34.0" r="5.3" fill="#262626"/><circle cx="478.5" cy="33.4" r="6.0" fill="#262626"/><circle cx="366.7" cy="37.0" r="4.8" fill="#262626"/><circle cx="407.1" cy="37.6" r="5.1" fill="#262626"/><circle cx="430.7" cy="37.8" r="6.2" fill="#262626"/><circle cx="460.1" cy="39.4" r="5.0" fill="#262626"/><circle cx="467.1" cy="38.5" r="6.1" fill="#262626"/><circle cx="487.4" cy="37.4" r="4.8" fill="#262626"/><circle cx="516.4" cy="38.4" r="6.0" fill="#262626"/><circle cx="426.6" cy="43.4" r="4.8" fill="#262626"/><circle cx="450.6" cy="43.2" r="4.6" fill="#262626"/><circle cx="495.4" cy="43.3" r="4.6" fill="#262626"/><circle cx="342.3" cy="44.8" r="4.7" fill="#262626"/><circle cx="347.0" cy="46.6" r="5.3" fill="#262626"/><circle cx="386.5" cy="45.7" r="6.2" fill="#262626"/><circle cx="395.9" cy="46.5" r="6.2" fill="#262626"/><circle cx="404.0" cy="47.2" r="4.6" fill="#262626"/><circle cx="352.3" cy="49.7" r="6.1" fill="#262626"/><circle cx="368.0" cy="51.0" r="4.9" fill="#262626"/><circle cx="399.4" cy="49.4" r="5.3" fill="#262626"/><circle cx="410.8" cy="48.6" r="5.6" fill="#262626"/><circle cx="451.0" cy="48.7" r="5.4" fill="#262626"/><circle cx="472.4" cy="50.0" r="6.2" fill="#262626"/><circle cx="480.3" cy="48.7" r="5.1" fill="#262626"/><circle cx="336.5" cy="54.2" r="5.2" fill="#262626"/><circle cx="422.3" cy="52.5" r="5.6" fill="#262626"/><circle cx="431.4" cy="53.8" r="6.1" fill="#262626"/><circle cx="437.6" cy="54.1" r="5.2" fill="#262626"/><circle cx="453.9" cy="53.1" r="5.6" fill="#262626"/><circle cx="466.4" cy="53.4" r="4.6" fill="#262626"/><circle cx="499.7" cy="54.6" r="6.0" fill="#262626"/><circle cx="343.6" cy="59.1" r="5.3" fill="#262626"/><circle cx="353.7" cy="59.2" r="4.8" fill="#262626"/><circle cx="421.8" cy="58.8" r="4.9" fill="#262626"/><circle cx="470.0" cy="56.5" r="4.9" fill="#262626"/><circle cx="335.1" cy="62.8" r="5.8" fill="#262626"/><circle cx="403.9" cy="62.7" r="5.3" fill="#262626"/><circle cx="410.1" cy="61.7" r="4.6" fill="#262626"/><circle cx="414.7" cy="62.9" r="5.7" fill="#262626"/><circle cx="435.2" cy="62.7" r="5.3" fill="#262626"/><circle cx="451.5" cy="62.4" r="5.3" fill="#262626"/><circle cx="463.8" cy="62.6" r="5.6" fill="#262626"/><circle cx="458.5" cy="65.0" r="6.1" fill="#262626"/><circle cx="467.3" cy="66.8" r="5.7" fill="#262626"/><circle cx="479.6" cy="66.1" r="5.8" fill="#262626"/><circle cx="346.6" cy="69.9" r="5.4" fill="#262626"/><circle cx="423.4" cy="70.6" r="5.6" fill="#262626"/><circle cx="473.9" cy="70.9" r="5.5" fill="#262626"/><circle cx="402.5" cy="74.3" r="6.2" fill="#262626"/><circle cx="471.8" cy="75.3" r="5.0" fill="#262626"/><circle cx="335.5" cy="81.1" r="5.4" fill="#262626"/><circle cx="348.5" cy="83.3" r="4.7" fill="#262626"/><circle cx="415.2" cy="81.1" r="4.7" fill="#262626"/><circle cx="472.1" cy="81.5" r="5.8" fill="#262626"/><circle cx="480.1" cy="83.4" r="5.4" fill="#262626"/><circle cx="334.0" cy="89.5" r="5.2" fill="#262626"/><circle cx="344.0" cy="91.0" r="5.4" fill="#262626"/><circle cx="484.1" cy="91.4" r="5.4" fill="#262626"/><circle cx="409.7" cy="95.2" r="5.5" fill="#262626"/><circle cx="416.4" cy="93.8" r="5.6" fill="#262626"/><circle cx="332.2" cy="98.3" r="5.2" fill="#262626"/><circle cx="463.6" cy="97.3" r="5.3" fill="#262626"/><circle cx="475.8" cy="97.4" r="4.6" fill="#262626"/><circle cx="512.3" cy="97.8" r="6.1" fill="#262626"/><circle cx="342.4" cy="100.9" r="5.7" fill="#262626"/><circle cx="347.5" cy="101.2" r="5.0" fill="#262626"/><circle cx="413.5" cy="103.5" r="5.8" fill="#262626"/><circle cx="423.2" cy="100.8" r="5.4" fill="#262626"/><circle cx="456.0" cy="101.4" r="4.9" fill="#262626"/><circle cx="488.0" cy="101.2" r="4.6" fill="#262626"/><circle cx="496.0" cy="102.6" r="6.1" fill="#262626"/><circle cx="517.8" cy="100.6" r="5.3" fill="#262626"/><circle cx="522.1" cy="102.7" r="4.6" fill="#262626"/><circle cx="350.5" cy="105.9" r="6.2" fill="#262626"/><circle cx="476.4" cy="106.2" r="5.9" fill="#262626"/><circle cx="504.1" cy="106.2" r="6.1" fill="#262626"/><circle cx="360.1" cy="110.1" r="5.7" fill="#262626"/><circle cx="386.7" cy="109.9" r="4.8" fill="#262626"/><circle cx="392.0" cy="109.7" r="6.0" fill="#262626"/><circle cx="405.6" cy="109.0" r="5.2" fill="#262626"/><circle cx="410.9" cy="110.2" r="5.2" fill="#262626"/><circle cx="448.4" cy="111.5" r="4.6" fill="#262626"/><circle cx="509.5" cy="111.1" r="5.3" fill="#262626"/><circle cx="340.1" cy="112.7" r="5.4" fill="#262626"/><circle cx="459.2" cy="114.5" r="5.6" fill="#262626"/><circle cx="495.5" cy="114.8" r="5.2" fill="#262626"/><circle cx="500.5" cy="113.2" r="5.8" fill="#262626"/><circle cx="339.4" cy="117.7" r="6.0" fill="#262626"/><circle cx="358.8" cy="117.2" r="4.9" fill="#262626"/><circle cx="380.1" cy="117.3" r="5.8" fill="#262626"/><circle cx="452.1" cy="119.4" r="4.6" fill="#262626"/><circle cx="465.8" cy="116.6" r="6.2" fill="#262626"/><circle cx="473.9" cy="118.0" r="4.8" fill="#262626"/><circle cx="478.8" cy="117.0" r="5.7" fill="#262626"/><circle cx="509.7" cy="116.6" r="5.4" fill="#262626"/><circle cx="514.7" cy="118.2" r="5.2" fill="#262626"/><circle cx="328.4" cy="121.7" r="5.2" fill="#262626"/><circle cx="356.0" cy="122.9" r="6.1" fill="#262626"/><circle cx="363.4" cy="122.1" r="5.1" fill="#262626"/><circle cx="383.7" cy="121.6" r="5.8" fill="#262626"/><circle cx="391.5" cy="121.5" r="5.6" fill="#262626"/><circle cx="404.2" cy="121.9" r="5.8" fill="#262626"/><circle cx="440.1" cy="120.6" r="5.2" fill="#262626"/><circle cx="482.6" cy="122.1" r="5.0" fill="#262626"/><circle cx="498.0" cy="122.7" r="5.0" fill="#262626"/><circle cx="335.6" cy="125.6" r="5.7" fill="#262626"/><circle cx="451.2" cy="126.0" r="5.3" fill="#262626"/><circle cx="487.2" cy="124.7" r="5.1" fill="#262626"/><circle cx="502.4" cy="126.6" r="5.9" fill="#262626"/><circle cx="371.2" cy="129.5" r="5.5" fill="#262626"/><circle cx="399.1" cy="128.8" r="5.3" fill="#262626"/><circle cx="446.3" cy="131.2" r="6.0" fill="#262626"/><circle cx="460.4" cy="129.5" r="6.1" fill="#262626"/><circle cx="347.0" cy="135.2" r="4.6" fill="#262626"/><circle cx="395.3" cy="135.4" r="4.6" fill="#262626"/><circle cx="409.5" cy="135.3" r="5.3" fill="#262626"/><circle cx="414.7" cy="132.8" r="5.0" fill="#262626"/><circle cx="443.0" cy="134.8" r="6.1" fill="#262626"/><circle cx="508.4" cy="134.9" r="5.0" fill="#262626"/><circle cx="332.0" cy="137.5" r="5.6" fill="#262626"/><circle cx="360.0" cy="138.4" r="5.1" fill="#262626"/><circle cx="382.3" cy="139.4" r="5.2" fill="#262626"/><circle cx="400.4" cy="138.0" r="6.2" fill="#262626"/><circle cx="442.8" cy="139.4" r="5.2" fill="#262626"/><circle cx="468.0" cy="138.6" r="5.5" fill="#262626"/><circle cx="488.4" cy="139.2" r="4.8" fill="#262626"/><circle cx="323.0" cy="143.1" r="4.8" fill="#262626"/><circle cx="372.0" cy="142.4" r="5.9" fill="#262626"/><circle cx="394.4" cy="142.4" r="5.0" fill="#262626"/><circle cx="419.5" cy="141.7" r="5.9" fill="#262626"/><circle cx="427.4" cy="143.4" r="5.6" fill="#262626"/><circle cx="500.2" cy="142.7" r="5.9" fill="#262626"/><circle cx="505.9" cy="142.6" r="5.7" fill="#262626"/><circle cx="338.8" cy="146.2" r="5.9" fill="#262626"/><circle cx="350.5" cy="145.5" r="5.5" fill="#262626"/><circle cx="367.8" cy="144.6" r="5.4" fill="#262626"/><circle cx="391.9" cy="147.4" r="5.1" fill="#262626"/><circle cx="418.1" cy="146.7" r="5.4" fill="#262626"/><circle cx="431.2" cy="146.6" r="6.2" fill="#262626"/><circle cx="382.7" cy="150.5" r="5.8" fill="#262626"/><circle cx="411.9" cy="151.0" r="5.6" fill="#262626"/><circle cx="475.2" cy="151.0" r="5.4" fill="#262626"/><circle cx="416.3" cy="153.5" r="5.9" fill="#262626"/><circle cx="471.6" cy="155.5" r="4.9" fill="#262626"/><circle cx="491.6" cy="153.1" r="5.0" fill="#262626"/><circle cx="318.4" cy="157.7" r="5.7" fill="#262626"/><circle cx="322.8" cy="158.7" r="4.7" fill="#262626"/><circle cx="328.3" cy="157.5" r="6.0" fill="#262626"/><circle cx="351.5" cy="158.3" r="5.7" fill="#262626"/><circle cx="426.2" cy="156.6" r="5.3" fill="#262626"/><circle cx="494.9" cy="158.7" r="4.7" fill="#262626"/><circle cx="484.1" cy="161.8" r="5.4" fill="#262626"/><circle cx="342.8" cy="167.4" r="4.9" fill="#262626"/><circle cx="359.5" cy="166.8" r="4.8" fill="#262626"/><circle cx="364.2" cy="169.1" r="5.1" fill="#262626"/><circle cx="468.4" cy="171.2" r="4.8" fill="#262626"/><circle cx="350.9" cy="175.5" r="4.8" fill="#262626"/><circle cx="448.0" cy="175.0" r="6.0" fill="#262626"/><circle cx="471.8" cy="174.8" r="6.0" fill="#262626"/><circle cx="482.5" cy="172.6" r="5.9" fill="#262626"/><circle cx="424.2" cy="179.2" r="6.2" fill="#262626"/><circle cx="432.2" cy="181.5" r="5.5" fill="#262626"/><circle cx="447.9" cy="181.3" r="5.2" fill="#262626"/><circle cx="458.3" cy="181.5" r="5.9" fill="#262626"/><circle cx="435.9" cy="187.0" r="6.2" fill="#262626"/><circle cx="485.8" cy="187.1" r="5.3" fill="#262626"/><circle cx="419.9" cy="190.5" r="5.8" fill="#262626"/><circle cx="443.0" cy="189.3" r="5.2" fill="#262626"/><circle cx="456.2" cy="189.6" r="6.2" fill="#262626"/><circle cx="478.4" cy="190.4" r="5.5" fill="#262626"/><circle cx="439.8" cy="193.2" r="5.9" fill="#262626"/><circle cx="460.0" cy="193.9" r="5.4" fill="#262626"/><circle cx="510.0" cy="194.4" r="4.7" fill="#262626"/><circle cx="440.1" cy="198.7" r="4.8" fill="#262626"/><circle cx="456.5" cy="197.5" r="6.1" fill="#262626"/><circle cx="515.0" cy="197.6" r="5.0" fill="#262626"/><circle cx="426.3" cy="200.6" r="5.2" fill="#262626"/><circle cx="447.5" cy="202.3" r="5.1" fill="#262626"/><circle cx="425.6" cy="205.2" r="6.2" fill="#262626"/><circle cx="461.9" cy="206.0" r="5.6" fill="#262626"/><circle cx="471.5" cy="206.1" r="5.6" fill="#262626"/><circle cx="486.6" cy="205.8" r="6.2" fill="#262626"/><circle cx="493.8" cy="206.3" r="4.6" fill="#262626"/><circle cx="508.0" cy="205.0" r="6.0" fill="#262626"/><circle cx="443.9" cy="208.8" r="5.0" fill="#262626"/><circle cx="489.8" cy="209.7" r="5.4" fill="#262626"/><circle cx="467.6" cy="214.7" r="4.9" fill="#262626"/><circle cx="497.8" cy="214.7" r="4.7" fill="#262626"/><circle cx="503.4" cy="218.9" r="5.5" fill="#262626"/></g><g filter="url(#blur05)"><circle cx="427.8" cy="18.2" r="5.0" fill="url(#pg3)"/><circle cx="469.9" cy="16.7" r="4.9" fill="url(#pg3)"/><circle cx="458.8" cy="23.3" r="5.2" fill="url(#pg3)"/><circle cx="386.9" cy="26.7" r="4.6" fill="url(#pg3)"/><circle cx="395.9" cy="24.8" r="4.6" fill="url(#pg3)"/><circle cx="415.0" cy="26.0" r="4.8" fill="url(#pg3)"/><circle cx="428.1" cy="27.3" r="4.2" fill="url(#pg3)"/><circle cx="441.7" cy="25.2" r="3.9" fill="url(#pg3)"/><circle cx="478.8" cy="26.0" r="4.3" fill="url(#pg3)"/><circle cx="354.3" cy="28.9" r="4.5" fill="url(#pg3)"/><circle cx="416.0" cy="30.6" r="4.7" fill="url(#pg3)"/><circle cx="499.5" cy="30.6" r="5.0" fill="url(#pg3)"/><circle cx="347.4" cy="34.5" r="4.5" fill="url(#pg3)"/><circle cx="398.3" cy="34.7" r="4.2" fill="url(#pg3)"/><circle cx="428.2" cy="33.1" r="5.2" fill="url(#pg3)"/><circle cx="440.4" cy="33.8" r="4.2" fill="url(#pg3)"/><circle cx="453.9" cy="35.0" r="4.5" fill="url(#pg3)"/><circle cx="469.5" cy="34.0" r="4.4" fill="url(#pg3)"/><circle cx="478.5" cy="33.4" r="5.0" fill="url(#pg3)"/><circle cx="366.7" cy="37.0" r="4.0" fill="url(#pg3)"/><circle cx="407.1" cy="37.6" r="4.3" fill="url(#pg3)"/><circle cx="430.7" cy="37.8" r="5.1" fill="url(#pg3)"/><circle cx="460.1" cy="39.4" r="4.1" fill="url(#pg3)"/><circle cx="467.1" cy="38.5" r="5.1" fill="url(#pg3)"/><circle cx="487.4" cy="37.4" r="4.0" fill="url(#pg3)"/><circle cx="516.4" cy="38.4" r="5.0" fill="url(#pg3)"/><circle cx="426.6" cy="43.4" r="4.0" fill="url(#pg3)"/><circle cx="450.6" cy="43.2" r="3.8" fill="url(#pg3)"/><circle cx="495.4" cy="43.3" r="3.8" fill="url(#pg3)"/><circle cx="342.3" cy="44.8" r="3.9" fill="url(#pg3)"/><circle cx="347.0" cy="46.6" r="4.4" fill="url(#pg3)"/><circle cx="386.5" cy="45.7" r="5.2" fill="url(#pg3)"/><circle cx="395.9" cy="46.5" r="5.2" fill="url(#pg3)"/><circle cx="404.0" cy="47.2" r="3.9" fill="url(#pg3)"/><circle cx="352.3" cy="49.7" r="5.1" fill="url(#pg3)"/><circle cx="368.0" cy="51.0" r="4.1" fill="url(#pg3)"/><circle cx="399.4" cy="49.4" r="4.4" fill="url(#pg3)"/><circle cx="410.8" cy="48.6" r="4.7" fill="url(#pg3)"/><circle cx="451.0" cy="48.7" r="4.5" fill="url(#pg3)"/><circle cx="472.4" cy="50.0" r="5.1" fill="url(#pg3)"/><circle cx="480.3" cy="48.7" r="4.3" fill="url(#pg3)"/><circle cx="336.5" cy="54.2" r="4.3" fill="url(#pg3)"/><circle cx="422.3" cy="52.5" r="4.7" fill="url(#pg3)"/><circle cx="431.4" cy="53.8" r="5.1" fill="url(#pg3)"/><circle cx="437.6" cy="54.1" r="4.4" fill="url(#pg3)"/><circle cx="453.9" cy="53.1" r="4.7" fill="url(#pg3)"/><circle cx="466.4" cy="53.4" r="3.9" fill="url(#pg3)"/><circle cx="499.7" cy="54.6" r="5.0" fill="url(#pg3)"/><circle cx="343.6" cy="59.1" r="4.4" fill="url(#pg3)"/><circle cx="353.7" cy="59.2" r="4.0" fill="url(#pg3)"/><circle cx="421.8" cy="58.8" r="4.1" fill="url(#pg3)"/><circle cx="470.0" cy="56.5" r="4.1" fill="url(#pg3)"/><circle cx="335.1" cy="62.8" r="4.9" fill="url(#pg3)"/><circle cx="403.9" cy="62.7" r="4.4" fill="url(#pg3)"/><circle cx="410.1" cy="61.7" r="3.8" fill="url(#pg3)"/><circle cx="414.7" cy="62.9" r="4.8" fill="url(#pg3)"/><circle cx="435.2" cy="62.7" r="4.4" fill="url(#pg3)"/><circle cx="451.5" cy="62.4" r="4.4" fill="url(#pg3)"/><circle cx="463.8" cy="62.6" r="4.7" fill="url(#pg3)"/><circle cx="458.5" cy="65.0" r="5.1" fill="url(#pg3)"/><circle cx="467.3" cy="66.8" r="4.7" fill="url(#pg3)"/><circle cx="479.6" cy="66.1" r="4.8" fill="url(#pg3)"/><circle cx="346.6" cy="69.9" r="4.5" fill="url(#pg3)"/><circle cx="423.4" cy="70.6" r="4.6" fill="url(#pg3)"/><circle cx="473.9" cy="70.9" r="4.6" fill="url(#pg3)"/><circle cx="402.5" cy="74.3" r="5.2" fill="url(#pg3)"/><circle cx="471.8" cy="75.3" r="4.1" fill="url(#pg3)"/><circle cx="335.5" cy="81.1" r="4.5" fill="url(#pg3)"/><circle cx="348.5" cy="83.3" r="3.9" fill="url(#pg3)"/><circle cx="415.2" cy="81.1" r="3.9" fill="url(#pg3)"/><circle cx="472.1" cy="81.5" r="4.8" fill="url(#pg3)"/><circle cx="480.1" cy="83.4" r="4.5" fill="url(#pg3)"/><circle cx="334.0" cy="89.5" r="4.3" fill="url(#pg3)"/><circle cx="344.0" cy="91.0" r="4.5" fill="url(#pg3)"/><circle cx="484.1" cy="91.4" r="4.5" fill="url(#pg3)"/><circle cx="409.7" cy="95.2" r="4.6" fill="url(#pg3)"/><circle cx="416.4" cy="93.8" r="4.7" fill="url(#pg3)"/><circle cx="332.2" cy="98.3" r="4.3" fill="url(#pg3)"/><circle cx="463.6" cy="97.3" r="4.4" fill="url(#pg3)"/><circle cx="475.8" cy="97.4" r="3.9" fill="url(#pg3)"/><circle cx="512.3" cy="97.8" r="5.1" fill="url(#pg3)"/><circle cx="342.4" cy="100.9" r="4.8" fill="url(#pg3)"/><circle cx="347.5" cy="101.2" r="4.1" fill="url(#pg3)"/><circle cx="413.5" cy="103.5" r="4.9" fill="url(#pg3)"/><circle cx="423.2" cy="100.8" r="4.5" fill="url(#pg3)"/><circle cx="456.0" cy="101.4" r="4.1" fill="url(#pg3)"/><circle cx="488.0" cy="101.2" r="3.9" fill="url(#pg3)"/><circle cx="496.0" cy="102.6" r="5.1" fill="url(#pg3)"/><circle cx="517.8" cy="100.6" r="4.4" fill="url(#pg3)"/><circle cx="522.1" cy="102.7" r="3.8" fill="url(#pg3)"/><circle cx="350.5" cy="105.9" r="5.2" fill="url(#pg3)"/><circle cx="476.4" cy="106.2" r="4.9" fill="url(#pg3)"/><circle cx="504.1" cy="106.2" r="5.1" fill="url(#pg3)"/><circle cx="360.1" cy="110.1" r="4.8" fill="url(#pg3)"/><circle cx="386.7" cy="109.9" r="4.0" fill="url(#pg3)"/><circle cx="392.0" cy="109.7" r="5.0" fill="url(#pg3)"/><circle cx="405.6" cy="109.0" r="4.3" fill="url(#pg3)"/><circle cx="410.9" cy="110.2" r="4.3" fill="url(#pg3)"/><circle cx="448.4" cy="111.5" r="3.8" fill="url(#pg3)"/><circle cx="509.5" cy="111.1" r="4.4" fill="url(#pg3)"/><circle cx="340.1" cy="112.7" r="4.5" fill="url(#pg3)"/><circle cx="459.2" cy="114.5" r="4.6" fill="url(#pg3)"/><circle cx="495.5" cy="114.8" r="4.3" fill="url(#pg3)"/><circle cx="500.5" cy="113.2" r="4.9" fill="url(#pg3)"/><circle cx="339.4" cy="117.7" r="5.0" fill="url(#pg3)"/><circle cx="358.8" cy="117.2" r="4.1" fill="url(#pg3)"/><circle cx="380.1" cy="117.3" r="4.9" fill="url(#pg3)"/><circle cx="452.1" cy="119.4" r="3.8" fill="url(#pg3)"/><circle cx="465.8" cy="116.6" r="5.2" fill="url(#pg3)"/><circle cx="473.9" cy="118.0" r="4.0" fill="url(#pg3)"/><circle cx="478.8" cy="117.0" r="4.8" fill="url(#pg3)"/><circle cx="509.7" cy="116.6" r="4.5" fill="url(#pg3)"/><circle cx="514.7" cy="118.2" r="4.3" fill="url(#pg3)"/><circle cx="328.4" cy="121.7" r="4.3" fill="url(#pg3)"/><circle cx="356.0" cy="122.9" r="5.1" fill="url(#pg3)"/><circle cx="363.4" cy="122.1" r="4.2" fill="url(#pg3)"/><circle cx="383.7" cy="121.6" r="4.8" fill="url(#pg3)"/><circle cx="391.5" cy="121.5" r="4.7" fill="url(#pg3)"/><circle cx="404.2" cy="121.9" r="4.8" fill="url(#pg3)"/><circle cx="440.1" cy="120.6" r="4.3" fill="url(#pg3)"/><circle cx="482.6" cy="122.1" r="4.1" fill="url(#pg3)"/><circle cx="498.0" cy="122.7" r="4.2" fill="url(#pg3)"/><circle cx="335.6" cy="125.6" r="4.7" fill="url(#pg3)"/><circle cx="451.2" cy="126.0" r="4.4" fill="url(#pg3)"/><circle cx="487.2" cy="124.7" r="4.2" fill="url(#pg3)"/><circle cx="502.4" cy="126.6" r="4.9" fill="url(#pg3)"/><circle cx="371.2" cy="129.5" r="4.6" fill="url(#pg3)"/><circle cx="399.1" cy="128.8" r="4.5" fill="url(#pg3)"/><circle cx="446.3" cy="131.2" r="5.0" fill="url(#pg3)"/><circle cx="460.4" cy="129.5" r="5.1" fill="url(#pg3)"/><circle cx="347.0" cy="135.2" r="3.8" fill="url(#pg3)"/><circle cx="395.3" cy="135.4" r="3.9" fill="url(#pg3)"/><circle cx="409.5" cy="135.3" r="4.4" fill="url(#pg3)"/><circle cx="414.7" cy="132.8" r="4.1" fill="url(#pg3)"/><circle cx="443.0" cy="134.8" r="5.1" fill="url(#pg3)"/><circle cx="508.4" cy="134.9" r="4.2" fill="url(#pg3)"/><circle cx="332.0" cy="137.5" r="4.6" fill="url(#pg3)"/><circle cx="360.0" cy="138.4" r="4.2" fill="url(#pg3)"/><circle cx="382.3" cy="139.4" r="4.3" fill="url(#pg3)"/><circle cx="400.4" cy="138.0" r="5.2" fill="url(#pg3)"/><circle cx="442.8" cy="139.4" r="4.3" fill="url(#pg3)"/><circle cx="468.0" cy="138.6" r="4.6" fill="url(#pg3)"/><circle cx="488.4" cy="139.2" r="4.0" fill="url(#pg3)"/><circle cx="323.0" cy="143.1" r="4.0" fill="url(#pg3)"/><circle cx="372.0" cy="142.4" r="4.9" fill="url(#pg3)"/><circle cx="394.4" cy="142.4" r="4.2" fill="url(#pg3)"/><circle cx="419.5" cy="141.7" r="4.9" fill="url(#pg3)"/><circle cx="427.4" cy="143.4" r="4.7" fill="url(#pg3)"/><circle cx="500.2" cy="142.7" r="4.9" fill="url(#pg3)"/><circle cx="505.9" cy="142.6" r="4.8" fill="url(#pg3)"/><circle cx="338.8" cy="146.2" r="4.9" fill="url(#pg3)"/><circle cx="350.5" cy="145.5" r="4.6" fill="url(#pg3)"/><circle cx="367.8" cy="144.6" r="4.5" fill="url(#pg3)"/><circle cx="391.9" cy="147.4" r="4.3" fill="url(#pg3)"/><circle cx="418.1" cy="146.7" r="4.5" fill="url(#pg3)"/><circle cx="431.2" cy="146.6" r="5.2" fill="url(#pg3)"/><circle cx="382.7" cy="150.5" r="4.8" fill="url(#pg3)"/><circle cx="411.9" cy="151.0" r="4.7" fill="url(#pg3)"/><circle cx="475.2" cy="151.0" r="4.5" fill="url(#pg3)"/><circle cx="416.3" cy="153.5" r="4.9" fill="url(#pg3)"/><circle cx="471.6" cy="155.5" r="4.0" fill="url(#pg3)"/><circle cx="491.6" cy="153.1" r="4.2" fill="url(#pg3)"/><circle cx="318.4" cy="157.7" r="4.8" fill="url(#pg3)"/><circle cx="322.8" cy="158.7" r="3.9" fill="url(#pg3)"/><circle cx="328.3" cy="157.5" r="5.0" fill="url(#pg3)"/><circle cx="351.5" cy="158.3" r="4.7" fill="url(#pg3)"/><circle cx="426.2" cy="156.6" r="4.4" fill="url(#pg3)"/><circle cx="494.9" cy="158.7" r="3.9" fill="url(#pg3)"/><circle cx="484.1" cy="161.8" r="4.5" fill="url(#pg3)"/><circle cx="342.8" cy="167.4" r="4.1" fill="url(#pg3)"/><circle cx="359.5" cy="166.8" r="4.0" fill="url(#pg3)"/><circle cx="364.2" cy="169.1" r="4.2" fill="url(#pg3)"/><circle cx="468.4" cy="171.2" r="4.0" fill="url(#pg3)"/><circle cx="350.9" cy="175.5" r="4.0" fill="url(#pg3)"/><circle cx="448.0" cy="175.0" r="5.0" fill="url(#pg3)"/><circle cx="471.8" cy="174.8" r="5.0" fill="url(#pg3)"/><circle cx="482.5" cy="172.6" r="4.9" fill="url(#pg3)"/><circle cx="424.2" cy="179.2" r="5.1" fill="url(#pg3)"/><circle cx="432.2" cy="181.5" r="4.5" fill="url(#pg3)"/><circle cx="447.9" cy="181.3" r="4.3" fill="url(#pg3)"/><circle cx="458.3" cy="181.5" r="5.0" fill="url(#pg3)"/><circle cx="435.9" cy="187.0" r="5.2" fill="url(#pg3)"/><circle cx="485.8" cy="187.1" r="4.4" fill="url(#pg3)"/><circle cx="419.9" cy="190.5" r="4.8" fill="url(#pg3)"/><circle cx="443.0" cy="189.3" r="4.3" fill="url(#pg3)"/><circle cx="456.2" cy="189.6" r="5.1" fill="url(#pg3)"/><circle cx="478.4" cy="190.4" r="4.6" fill="url(#pg3)"/><circle cx="439.8" cy="193.2" r="5.0" fill="url(#pg3)"/><circle cx="460.0" cy="193.9" r="4.5" fill="url(#pg3)"/><circle cx="510.0" cy="194.4" r="3.9" fill="url(#pg3)"/><circle cx="440.1" cy="198.7" r="4.0" fill="url(#pg3)"/><circle cx="456.5" cy="197.5" r="5.1" fill="url(#pg3)"/><circle cx="515.0" cy="197.6" r="4.2" fill="url(#pg3)"/><circle cx="426.3" cy="200.6" r="4.3" fill="url(#pg3)"/><circle cx="447.5" cy="202.3" r="4.2" fill="url(#pg3)"/><circle cx="425.6" cy="205.2" r="5.1" fill="url(#pg3)"/><circle cx="461.9" cy="206.0" r="4.7" fill="url(#pg3)"/><circle cx="471.5" cy="206.1" r="4.7" fill="url(#pg3)"/><circle cx="486.6" cy="205.8" r="5.2" fill="url(#pg3)"/><circle cx="493.8" cy="206.3" r="3.8" fill="url(#pg3)"/><circle cx="508.0" cy="205.0" r="5.0" fill="url(#pg3)"/><circle cx="443.9" cy="208.8" r="4.2" fill="url(#pg3)"/><circle cx="489.8" cy="209.7" r="4.5" fill="url(#pg3)"/><circle cx="467.6" cy="214.7" r="4.1" fill="url(#pg3)"/><circle cx="497.8" cy="214.7" r="3.9" fill="url(#pg3)"/><circle cx="503.4" cy="218.9" r="4.6" fill="url(#pg3)"/><circle cx="317.0" cy="22.0" r="6.6" fill="url(#pg)" stroke="#4a4a4a" stroke-width="0.45"/><circle cx="337.1" cy="21.0" r="5.5" fill="url(#pg)" stroke="#4a4a4a" stroke-width="0.45"/><circle cx="345.1" cy="25.0" r="5.5" fill="url(#pg)" stroke="#4a4a4a" stroke-width="0.45"/><circle cx="352.2" cy="34.1" r="4.9" fill="url(#pg)" stroke="#4a4a4a" stroke-width="0.45"/><circle cx="348.1" cy="41.1" r="4.9" fill="url(#pg)" stroke="#4a4a4a" stroke-width="0.45"/><circle cx="364.2" cy="30.0" r="7.7" fill="url(#pg)" stroke="#4a4a4a" stroke-width="0.45"/><circle cx="360.2" cy="43.1" r="7.7" fill="url(#pg)" stroke="#4a4a4a" stroke-width="0.45"/><circle cx="373.2" cy="23.0" r="4.9" fill="url(#pg2)" stroke="#4a4a4a" stroke-width="0.45"/><circle cx="382.3" cy="23.0" r="4.9" fill="url(#pg)" stroke="#4a4a4a" stroke-width="0.45"/><circle cx="391.3" cy="32.1" r="6.2" fill="url(#pg)" stroke="#4a4a4a" stroke-width="0.45"/><circle cx="392.3" cy="21.0" r="4.4" fill="url(#pg)" stroke="#4a4a4a" stroke-width="0.45"/><circle cx="403.4" cy="23.0" r="4.4" fill="url(#pg)" stroke="#4a4a4a" stroke-width="0.45"/><circle cx="409.4" cy="33.1" r="4.4" fill="url(#pg2)" stroke="#4a4a4a" stroke-width="0.45"/><circle cx="412.4" cy="41.1" r="5.5" fill="url(#pg2)" stroke="#4a4a4a" stroke-width="0.45"/><circle cx="402.4" cy="40.1" r="4.9" fill="url(#pg)" stroke="#4a4a4a" stroke-width="0.45"/><circle cx="383.3" cy="40.1" r="4.9" fill="url(#pg)" stroke="#4a4a4a" stroke-width="0.45"/><circle cx="393.3" cy="41.1" r="4.4" fill="url(#pg)" stroke="#4a4a4a" stroke-width="0.45"/><circle cx="373.2" cy="45.1" r="5.5" fill="url(#pg)" stroke="#4a4a4a" stroke-width="0.45"/><circle cx="391.3" cy="51.1" r="6.6" fill="url(#pg2)" stroke="#4a4a4a" stroke-width="0.45"/><circle cx="405.4" cy="53.1" r="5.5" fill="url(#pg)" stroke="#4a4a4a" stroke-width="0.45"/><circle cx="383.3" cy="56.2" r="4.4" fill="url(#pg)" stroke="#4a4a4a" stroke-width="0.45"/><circle cx="388.3" cy="61.2" r="4.9" fill="url(#pg)" stroke="#4a4a4a" stroke-width="0.45"/><circle cx="365.2" cy="57.2" r="4.9" fill="url(#pg)" stroke="#4a4a4a" stroke-width="0.45"/><circle cx="358.2" cy="54.1" r="4.9" fill="url(#pg)" stroke="#4a4a4a" stroke-width="0.45"/><circle cx="351.2" cy="54.1" r="4.9" fill="url(#pg)" stroke="#4a4a4a" stroke-width="0.45"/><circle cx="343.1" cy="51.1" r="5.5" fill="url(#pg2)" stroke="#4a4a4a" stroke-width="0.45"/><circle cx="335.1" cy="50.1" r="4.4" fill="url(#pg)" stroke="#4a4a4a" stroke-width="0.45"/><circle cx="331.1" cy="57.2" r="4.9" fill="url(#pg)" stroke="#4a4a4a" stroke-width="0.45"/><circle cx="339.1" cy="58.2" r="4.4" fill="url(#pg)" stroke="#4a4a4a" stroke-width="0.45"/><circle cx="325.1" cy="67.2" r="7.7" fill="url(#pg)" stroke="#4a4a4a" stroke-width="0.45"/><circle cx="340.1" cy="66.2" r="4.9" fill="url(#pg)" stroke="#4a4a4a" stroke-width="0.45"/><circle cx="348.1" cy="64.2" r="4.4" fill="url(#pg)" stroke="#4a4a4a" stroke-width="0.45"/><circle cx="353.2" cy="71.2" r="4.4" fill="url(#pg)" stroke="#4a4a4a" stroke-width="0.45"/><circle cx="334.1" cy="75.2" r="5.5" fill="url(#pg)" stroke="#4a4a4a" stroke-width="0.45"/><circle cx="344.1" cy="76.2" r="6.2" fill="url(#pg)" stroke="#4a4a4a" stroke-width="0.45"/><circle cx="355.2" cy="84.3" r="6.2" fill="url(#pg)" stroke="#4a4a4a" stroke-width="0.45"/><circle cx="341.1" cy="86.3" r="5.5" fill="url(#pg)" stroke="#4a4a4a" stroke-width="0.45"/><circle cx="364.2" cy="82.3" r="4.9" fill="url(#pg)" stroke="#4a4a4a" stroke-width="0.45"/><circle cx="373.2" cy="85.3" r="4.9" fill="url(#pg2)" stroke="#4a4a4a" stroke-width="0.45"/><circle cx="327.1" cy="92.3" r="6.2" fill="url(#pg)" stroke="#4a4a4a" stroke-width="0.45"/><circle cx="341.1" cy="95.3" r="4.4" fill="url(#pg)" stroke="#4a4a4a" stroke-width="0.45"/><circle cx="347.1" cy="96.3" r="4.4" fill="url(#pg)" stroke="#4a4a4a" stroke-width="0.45"/><circle cx="379.3" cy="95.3" r="6.6" fill="url(#pg)" stroke="#4a4a4a" stroke-width="0.45"/><circle cx="388.3" cy="101.3" r="6.2" fill="url(#pg)" stroke="#4a4a4a" stroke-width="0.45"/><circle cx="326.1" cy="104.3" r="4.4" fill="url(#pg)" stroke="#4a4a4a" stroke-width="0.45"/><circle cx="342.1" cy="106.4" r="5.5" fill="url(#pg)" stroke="#4a4a4a" stroke-width="0.45"/><circle cx="356.2" cy="106.4" r="4.4" fill="url(#pg)" stroke="#4a4a4a" stroke-width="0.45"/><circle cx="377.3" cy="108.4" r="8.8" fill="url(#pg2)" stroke="#4a4a4a" stroke-width="0.45"/><circle cx="331.1" cy="112.4" r="6.6" fill="url(#pg)" stroke="#4a4a4a" stroke-width="0.45"/><circle cx="351.2" cy="116.4" r="7.7" fill="url(#pg)" stroke="#4a4a4a" stroke-width="0.45"/><circle cx="365.2" cy="114.4" r="4.4" fill="url(#pg)" stroke="#4a4a4a" stroke-width="0.45"/><circle cx="399.4" cy="107.4" r="6.2" fill="url(#pg)" stroke="#4a4a4a" stroke-width="0.45"/><circle cx="408.4" cy="102.3" r="4.9" fill="url(#pg)" stroke="#4a4a4a" stroke-width="0.45"/><circle cx="409.4" cy="70.2" r="6.6" fill="url(#pg)" stroke="#4a4a4a" stroke-width="0.45"/><circle cx="405.4" cy="78.2" r="4.9" fill="url(#pg)" stroke="#4a4a4a" stroke-width="0.45"/><circle cx="411.4" cy="78.2" r="4.9" fill="url(#pg)" stroke="#4a4a4a" stroke-width="0.45"/><circle cx="411.4" cy="88.3" r="6.6" fill="url(#pg)" stroke="#4a4a4a" stroke-width="0.45"/><circle cx="404.4" cy="68.2" r="4.4" fill="url(#pg)" stroke="#4a4a4a" stroke-width="0.45"/><circle cx="415.4" cy="58.2" r="4.4" fill="url(#pg)" stroke="#4a4a4a" stroke-width="0.45"/><circle cx="385.3" cy="116.4" r="4.4" fill="url(#pg)" stroke="#4a4a4a" stroke-width="0.45"/><circle cx="395.3" cy="116.4" r="5.5" fill="url(#pg)" stroke="#4a4a4a" stroke-width="0.45"/><circle cx="405.4" cy="116.4" r="4.4" fill="url(#pg)" stroke="#4a4a4a" stroke-width="0.45"/><circle cx="421.0" cy="20.0" r="4.4" fill="url(#pg)" stroke="#4a4a4a" stroke-width="0.45"/><circle cx="433.1" cy="21.0" r="4.4" fill="url(#pg)" stroke="#4a4a4a" stroke-width="0.45"/><circle cx="441.1" cy="20.0" r="4.9" fill="url(#pg)" stroke="#4a4a4a" stroke-width="0.45"/><circle cx="453.1" cy="19.0" r="4.4" fill="url(#pg)" stroke="#4a4a4a" stroke-width="0.45"/><circle cx="465.2" cy="20.0" r="4.9" fill="url(#pg2)" stroke="#4a4a4a" stroke-width="0.45"/><circle cx="477.2" cy="20.0" r="4.4" fill="url(#pg2)" stroke="#4a4a4a" stroke-width="0.45"/><circle cx="423.0" cy="30.0" r="4.4" fill="url(#pg)" stroke="#4a4a4a" stroke-width="0.45"/><circle cx="417.0" cy="36.1" r="5.5" fill="url(#pg)" stroke="#4a4a4a" stroke-width="0.45"/><circle cx="422.0" cy="37.1" r="5.5" fill="url(#pg2)" stroke="#4a4a4a" stroke-width="0.45"/><circle cx="434.1" cy="27.0" r="6.2" fill="url(#pg)" stroke="#4a4a4a" stroke-width="0.45"/><circle cx="444.1" cy="31.1" r="4.9" fill="url(#pg)" stroke="#4a4a4a" stroke-width="0.45"/><circle cx="452.1" cy="29.0" r="5.5" fill="url(#pg2)" stroke="#4a4a4a" stroke-width="0.45"/><circle cx="460.2" cy="33.1" r="4.4" fill="url(#pg)" stroke="#4a4a4a" stroke-width="0.45"/><circle cx="469.2" cy="27.0" r="5.5" fill="url(#pg2)" stroke="#4a4a4a" stroke-width="0.45"/><circle cx="488.3" cy="30.0" r="7.7" fill="url(#pg)" stroke="#4a4a4a" stroke-width="0.45"/><circle cx="499.3" cy="22.0" r="4.9" fill="url(#pg)" stroke="#4a4a4a" stroke-width="0.45"/><circle cx="505.4" cy="37.1" r="7.7" fill="url(#pg)" stroke="#4a4a4a" stroke-width="0.45"/><circle cx="517.4" cy="30.0" r="6.6" fill="url(#pg)" stroke="#4a4a4a" stroke-width="0.45"/><circle cx="513.4" cy="44.1" r="4.9" fill="url(#pg)" stroke="#4a4a4a" stroke-width="0.45"/><circle cx="437.1" cy="38.1" r="4.4" fill="url(#pg)" stroke="#4a4a4a" stroke-width="0.45"/><circle cx="447.1" cy="37.1" r="4.9" fill="url(#pg)" stroke="#4a4a4a" stroke-width="0.45"/><circle cx="429.0" cy="48.1" r="5.5" fill="url(#pg)" stroke="#4a4a4a" stroke-width="0.45"/><circle cx="440.1" cy="47.1" r="6.6" fill="url(#pg2)" stroke="#4a4a4a" stroke-width="0.45"/><circle cx="448.1" cy="56.2" r="6.2" fill="url(#pg)" stroke="#4a4a4a" stroke-width="0.45"/><circle cx="459.2" cy="50.1" r="6.2" fill="url(#pg2)" stroke="#4a4a4a" stroke-width="0.45"/><circle cx="467.2" cy="46.1" r="4.9" fill="url(#pg)" stroke="#4a4a4a" stroke-width="0.45"/><circle cx="475.2" cy="42.1" r="5.5" fill="url(#pg2)" stroke="#4a4a4a" stroke-width="0.45"/><circle cx="483.3" cy="41.1" r="4.4" fill="url(#pg)" stroke="#4a4a4a" stroke-width="0.45"/><circle cx="489.3" cy="50.1" r="8.4" fill="url(#pg)" stroke="#4a4a4a" stroke-width="0.45"/><circle cx="501.3" cy="46.1" r="5.5" fill="url(#pg)" stroke="#4a4a4a" stroke-width="0.45"/><circle cx="494.3" cy="56.2" r="4.4" fill="url(#pg)" stroke="#4a4a4a" stroke-width="0.45"/><circle cx="419.0" cy="48.1" r="4.4" fill="url(#pg2)" stroke="#4a4a4a" stroke-width="0.45"/><circle cx="417.0" cy="54.1" r="4.9" fill="url(#pg)" stroke="#4a4a4a" stroke-width="0.45"/><circle cx="427.0" cy="58.2" r="4.9" fill="url(#pg)" stroke="#4a4a4a" stroke-width="0.45"/><circle cx="433.1" cy="58.2" r="4.4" fill="url(#pg)" stroke="#4a4a4a" stroke-width="0.45"/><circle cx="426.0" cy="65.2" r="6.2" fill="url(#pg)" stroke="#4a4a4a" stroke-width="0.45"/><circle cx="420.0" cy="76.2" r="5.5" fill="url(#pg)" stroke="#4a4a4a" stroke-width="0.45"/><circle cx="417.0" cy="68.2" r="4.4" fill="url(#pg2)" stroke="#4a4a4a" stroke-width="0.45"/><circle cx="441.1" cy="61.2" r="4.4" fill="url(#pg)" stroke="#4a4a4a" stroke-width="0.45"/><circle cx="448.1" cy="66.2" r="4.9" fill="url(#pg)" stroke="#4a4a4a" stroke-width="0.45"/><circle cx="457.2" cy="58.2" r="5.5" fill="url(#pg2)" stroke="#4a4a4a" stroke-width="0.45"/><circle cx="465.2" cy="58.2" r="4.4" fill="url(#pg)" stroke="#4a4a4a" stroke-width="0.45"/><circle cx="471.2" cy="64.2" r="4.9" fill="url(#pg)" stroke="#4a4a4a" stroke-width="0.45"/><circle cx="475.2" cy="58.2" r="4.9" fill="url(#pg)" stroke="#4a4a4a" stroke-width="0.45"/><circle cx="456.2" cy="70.2" r="4.9" fill="url(#pg)" stroke="#4a4a4a" stroke-width="0.45"/><circle cx="462.2" cy="72.2" r="5.5" fill="url(#pg)" stroke="#4a4a4a" stroke-width="0.45"/><circle cx="467.2" cy="78.2" r="5.5" fill="url(#pg)" stroke="#4a4a4a" stroke-width="0.45"/><circle cx="477.2" cy="76.2" r="5.5" fill="url(#pg)" stroke="#4a4a4a" stroke-width="0.45"/><circle cx="489.3" cy="78.2" r="5.5" fill="url(#pg)" stroke="#4a4a4a" stroke-width="0.45"/><circle cx="484.3" cy="70.2" r="4.4" fill="url(#pg)" stroke="#4a4a4a" stroke-width="0.45"/><circle cx="421.0" cy="88.3" r="5.5" fill="url(#pg)" stroke="#4a4a4a" stroke-width="0.45"/><circle cx="417.0" cy="98.3" r="4.4" fill="url(#pg)" stroke="#4a4a4a" stroke-width="0.45"/><circle cx="471.2" cy="91.3" r="5.5" fill="url(#pg)" stroke="#4a4a4a" stroke-width="0.45"/><circle cx="477.2" cy="90.3" r="4.9" fill="url(#pg)" stroke="#4a4a4a" stroke-width="0.45"/><circle cx="483.3" cy="97.3" r="4.9" fill="url(#pg2)" stroke="#4a4a4a" stroke-width="0.45"/><circle cx="491.3" cy="95.3" r="5.5" fill="url(#pg)" stroke="#4a4a4a" stroke-width="0.45"/><circle cx="503.3" cy="94.3" r="7.7" fill="url(#pg2)" stroke="#4a4a4a" stroke-width="0.45"/><circle cx="515.4" cy="93.3" r="4.4" fill="url(#pg)" stroke="#4a4a4a" stroke-width="0.45"/><circle cx="520.4" cy="96.3" r="4.4" fill="url(#pg)" stroke="#4a4a4a" stroke-width="0.45"/><circle cx="468.2" cy="100.3" r="4.4" fill="url(#pg)" stroke="#4a4a4a" stroke-width="0.45"/><circle cx="421.0" cy="108.4" r="6.2" fill="url(#pg)" stroke="#4a4a4a" stroke-width="0.45"/><circle cx="429.0" cy="107.4" r="4.9" fill="url(#pg)" stroke="#4a4a4a" stroke-width="0.45"/><circle cx="441.1" cy="114.4" r="6.6" fill="url(#pg)" stroke="#4a4a4a" stroke-width="0.45"/><circle cx="453.1" cy="110.4" r="4.9" fill="url(#pg)" stroke="#4a4a4a" stroke-width="0.45"/><circle cx="462.2" cy="107.4" r="6.2" fill="url(#pg)" stroke="#4a4a4a" stroke-width="0.45"/><circle cx="472.2" cy="112.4" r="4.9" fill="url(#pg2)" stroke="#4a4a4a" stroke-width="0.45"/><circle cx="485.3" cy="113.4" r="7.7" fill="url(#pg)" stroke="#4a4a4a" stroke-width="0.45"/><circle cx="497.3" cy="108.4" r="4.9" fill="url(#pg)" stroke="#4a4a4a" stroke-width="0.45"/><circle cx="505.4" cy="110.4" r="4.4" fill="url(#pg)" stroke="#4a4a4a" stroke-width="0.45"/><circle cx="513.4" cy="104.3" r="4.9" fill="url(#pg2)" stroke="#4a4a4a" stroke-width="0.45"/><circle cx="518.4" cy="112.4" r="5.5" fill="url(#pg)" stroke="#4a4a4a" stroke-width="0.45"/><circle cx="449.1" cy="104.3" r="4.4" fill="url(#pg)" stroke="#4a4a4a" stroke-width="0.45"/><circle cx="471.2" cy="102.3" r="4.4" fill="url(#pg)" stroke="#4a4a4a" stroke-width="0.45"/><circle cx="492.3" cy="106.4" r="4.4" fill="url(#pg)" stroke="#4a4a4a" stroke-width="0.45"/><circle cx="505.4" cy="118.4" r="4.4" fill="url(#pg2)" stroke="#4a4a4a" stroke-width="0.45"/><circle cx="327.2" cy="131.1" r="7.8" fill="url(#pg)" stroke="#4a4a4a" stroke-width="0.45"/><circle cx="346.5" cy="127.1" r="7.8" fill="url(#pg)" stroke="#4a4a4a" stroke-width="0.45"/><circle cx="357.6" cy="129.1" r="5.6" fill="url(#pg)" stroke="#4a4a4a" stroke-width="0.45"/><circle cx="339.4" cy="136.2" r="6.2" fill="url(#pg)" stroke="#4a4a4a" stroke-width="0.45"/><circle cx="333.3" cy="121.0" r="4.5" fill="url(#pg)" stroke="#4a4a4a" stroke-width="0.45"/><circle cx="351.5" cy="121.0" r="4.5" fill="url(#pg)" stroke="#4a4a4a" stroke-width="0.45"/><circle cx="317.1" cy="148.4" r="7.8" fill="url(#pg)" stroke="#4a4a4a" stroke-width="0.45"/><circle cx="330.3" cy="149.4" r="7.1" fill="url(#pg)" stroke="#4a4a4a" stroke-width="0.45"/><circle cx="341.4" cy="156.5" r="8.9" fill="url(#pg)" stroke="#4a4a4a" stroke-width="0.45"/><circle cx="353.6" cy="138.2" r="5.6" fill="url(#pg)" stroke="#4a4a4a" stroke-width="0.45"/><circle cx="360.7" cy="145.3" r="6.7" fill="url(#pg)" stroke="#4a4a4a" stroke-width="0.45"/><circle cx="350.5" cy="150.4" r="4.9" fill="url(#pg)" stroke="#4a4a4a" stroke-width="0.45"/><circle cx="345.5" cy="143.3" r="4.9" fill="url(#pg)" stroke="#4a4a4a" stroke-width="0.45"/><circle cx="371.8" cy="122.0" r="4.9" fill="url(#pg)" stroke="#4a4a4a" stroke-width="0.45"/><circle cx="377.9" cy="128.1" r="5.6" fill="url(#pg2)" stroke="#4a4a4a" stroke-width="0.45"/><circle cx="374.8" cy="136.2" r="5.6" fill="url(#pg)" stroke="#4a4a4a" stroke-width="0.45"/><circle cx="384.0" cy="131.1" r="6.2" fill="url(#pg)" stroke="#4a4a4a" stroke-width="0.45"/><circle cx="390.0" cy="138.2" r="5.6" fill="url(#pg)" stroke="#4a4a4a" stroke-width="0.45"/><circle cx="396.1" cy="124.1" r="4.9" fill="url(#pg2)" stroke="#4a4a4a" stroke-width="0.45"/><circle cx="392.1" cy="128.1" r="4.5" fill="url(#pg)" stroke="#4a4a4a" stroke-width="0.45"/><circle cx="404.2" cy="132.2" r="5.6" fill="url(#pg)" stroke="#4a4a4a" stroke-width="0.45"/><circle cx="406.3" cy="140.3" r="4.5" fill="url(#pg)" stroke="#4a4a4a" stroke-width="0.45"/><circle cx="413.4" cy="139.3" r="5.6" fill="url(#pg)" stroke="#4a4a4a" stroke-width="0.45"/><circle cx="377.9" cy="146.3" r="5.6" fill="url(#pg)" stroke="#4a4a4a" stroke-width="0.45"/><circle cx="386.0" cy="146.3" r="4.9" fill="url(#pg)" stroke="#4a4a4a" stroke-width="0.45"/><circle cx="400.2" cy="146.3" r="5.6" fill="url(#pg2)" stroke="#4a4a4a" stroke-width="0.45"/><circle cx="410.3" cy="146.3" r="4.9" fill="url(#pg)" stroke="#4a4a4a" stroke-width="0.45"/><circle cx="371.8" cy="153.4" r="6.7" fill="url(#pg)" stroke="#4a4a4a" stroke-width="0.45"/><circle cx="361.7" cy="158.5" r="7.1" fill="url(#pg2)" stroke="#4a4a4a" stroke-width="0.45"/><circle cx="367.7" cy="164.6" r="4.5" fill="url(#pg)" stroke="#4a4a4a" stroke-width="0.45"/><circle cx="405.2" cy="154.5" r="6.7" fill="url(#pg)" stroke="#4a4a4a" stroke-width="0.45"/><circle cx="414.4" cy="160.5" r="4.5" fill="url(#pg)" stroke="#4a4a4a" stroke-width="0.45"/><circle cx="311.0" cy="156.5" r="5.6" fill="url(#pg)" stroke="#4a4a4a" stroke-width="0.45"/><circle cx="319.1" cy="168.6" r="7.8" fill="url(#pg)" stroke="#4a4a4a" stroke-width="0.45"/><circle cx="333.3" cy="168.6" r="7.8" fill="url(#pg)" stroke="#4a4a4a" stroke-width="0.45"/><circle cx="323.2" cy="176.7" r="5.6" fill="url(#pg)" stroke="#4a4a4a" stroke-width="0.45"/><circle cx="342.4" cy="176.7" r="5.6" fill="url(#pg)" stroke="#4a4a4a" stroke-width="0.45"/><circle cx="354.6" cy="166.6" r="4.9" fill="url(#pg)" stroke="#4a4a4a" stroke-width="0.45"/><circle cx="356.6" cy="174.7" r="5.6" fill="url(#pg2)" stroke="#4a4a4a" stroke-width="0.45"/><circle cx="349.5" cy="169.7" r="4.5" fill="url(#pg2)" stroke="#4a4a4a" stroke-width="0.45"/><circle cx="416.8" cy="186.9" r="3.1" fill="url(#pg)" stroke="#4a4a4a" stroke-width="0.45"/><circle cx="425.1" cy="136.2" r="6.7" fill="url(#pg)" stroke="#4a4a4a" stroke-width="0.45"/><circle cx="433.2" cy="139.3" r="6.2" fill="url(#pg)" stroke="#4a4a4a" stroke-width="0.45"/><circle cx="423.1" cy="150.4" r="6.2" fill="url(#pg)" stroke="#4a4a4a" stroke-width="0.45"/><circle cx="431.2" cy="154.5" r="5.6" fill="url(#pg)" stroke="#4a4a4a" stroke-width="0.45"/><circle cx="421.1" cy="162.6" r="7.8" fill="url(#pg)" stroke="#4a4a4a" stroke-width="0.45"/><circle cx="435.2" cy="151.4" r="4.5" fill="url(#pg)" stroke="#4a4a4a" stroke-width="0.45"/><circle cx="439.3" cy="130.1" r="6.2" fill="url(#pg)" stroke="#4a4a4a" stroke-width="0.45"/><circle cx="451.5" cy="134.2" r="6.2" fill="url(#pg)" stroke="#4a4a4a" stroke-width="0.45"/><circle cx="459.6" cy="138.2" r="4.9" fill="url(#pg)" stroke="#4a4a4a" stroke-width="0.45"/><circle cx="467.7" cy="145.3" r="6.2" fill="url(#pg)" stroke="#4a4a4a" stroke-width="0.45"/><circle cx="478.8" cy="141.3" r="6.2" fill="url(#pg)" stroke="#4a4a4a" stroke-width="0.45"/><circle cx="447.4" cy="123.0" r="4.9" fill="url(#pg)" stroke="#4a4a4a" stroke-width="0.45"/><circle cx="460.6" cy="123.0" r="4.9" fill="url(#pg)" stroke="#4a4a4a" stroke-width="0.45"/><circle cx="483.9" cy="132.2" r="6.2" fill="url(#pg)" stroke="#4a4a4a" stroke-width="0.45"/><circle cx="492.0" cy="129.1" r="5.6" fill="url(#pg2)" stroke="#4a4a4a" stroke-width="0.45"/><circle cx="498.1" cy="133.2" r="7.1" fill="url(#pg)" stroke="#4a4a4a" stroke-width="0.45"/><circle cx="475.8" cy="123.0" r="4.9" fill="url(#pg)" stroke="#4a4a4a" stroke-width="0.45"/><circle cx="512.3" cy="128.1" r="6.2" fill="url(#pg)" stroke="#4a4a4a" stroke-width="0.45"/><circle cx="514.3" cy="140.3" r="4.9" fill="url(#pg)" stroke="#4a4a4a" stroke-width="0.45"/><circle cx="510.2" cy="150.4" r="4.9" fill="url(#pg)" stroke="#4a4a4a" stroke-width="0.45"/><circle cx="501.1" cy="152.4" r="6.7" fill="url(#pg)" stroke="#4a4a4a" stroke-width="0.45"/><circle cx="491.0" cy="144.3" r="4.9" fill="url(#pg)" stroke="#4a4a4a" stroke-width="0.45"/><circle cx="466.7" cy="160.5" r="6.2" fill="url(#pg)" stroke="#4a4a4a" stroke-width="0.45"/><circle cx="477.8" cy="158.5" r="5.6" fill="url(#pg2)" stroke="#4a4a4a" stroke-width="0.45"/><circle cx="485.9" cy="156.5" r="4.5" fill="url(#pg)" stroke="#4a4a4a" stroke-width="0.45"/><circle cx="473.7" cy="167.6" r="5.6" fill="url(#pg)" stroke="#4a4a4a" stroke-width="0.45"/><circle cx="487.9" cy="165.6" r="5.6" fill="url(#pg)" stroke="#4a4a4a" stroke-width="0.45"/><circle cx="499.1" cy="170.7" r="7.1" fill="url(#pg)" stroke="#4a4a4a" stroke-width="0.45"/><circle cx="513.3" cy="177.8" r="8.5" fill="url(#pg)" stroke="#4a4a4a" stroke-width="0.45"/><circle cx="518.3" cy="190.9" r="5.6" fill="url(#pg)" stroke="#4a4a4a" stroke-width="0.45"/><circle cx="429.2" cy="174.7" r="6.2" fill="url(#pg)" stroke="#4a4a4a" stroke-width="0.45"/><circle cx="439.3" cy="178.8" r="5.6" fill="url(#pg)" stroke="#4a4a4a" stroke-width="0.45"/><circle cx="453.5" cy="176.7" r="4.5" fill="url(#pg)" stroke="#4a4a4a" stroke-width="0.45"/><circle cx="463.6" cy="177.8" r="4.5" fill="url(#pg)" stroke="#4a4a4a" stroke-width="0.45"/><circle cx="419.0" cy="184.9" r="5.6" fill="url(#pg)" stroke="#4a4a4a" stroke-width="0.45"/><circle cx="429.2" cy="188.9" r="7.1" fill="url(#pg)" stroke="#4a4a4a" stroke-width="0.45"/><circle cx="443.3" cy="182.8" r="4.9" fill="url(#pg)" stroke="#4a4a4a" stroke-width="0.45"/><circle cx="453.5" cy="184.9" r="5.6" fill="url(#pg)" stroke="#4a4a4a" stroke-width="0.45"/><circle cx="463.6" cy="185.9" r="4.9" fill="url(#pg)" stroke="#4a4a4a" stroke-width="0.45"/><circle cx="473.7" cy="184.9" r="6.2" fill="url(#pg)" stroke="#4a4a4a" stroke-width="0.45"/><circle cx="479.8" cy="180.8" r="4.9" fill="url(#pg)" stroke="#4a4a4a" stroke-width="0.45"/><circle cx="451.5" cy="195.0" r="5.6" fill="url(#pg)" stroke="#4a4a4a" stroke-width="0.45"/><circle cx="468.7" cy="195.0" r="7.8" fill="url(#pg2)" stroke="#4a4a4a" stroke-width="0.45"/><circle cx="481.9" cy="197.0" r="6.2" fill="url(#pg)" stroke="#4a4a4a" stroke-width="0.45"/><circle cx="497.1" cy="194.0" r="8.5" fill="url(#pg)" stroke="#4a4a4a" stroke-width="0.45"/><circle cx="506.2" cy="200.1" r="5.6" fill="url(#pg)" stroke="#4a4a4a" stroke-width="0.45"/><circle cx="514.3" cy="203.1" r="5.6" fill="url(#pg2)" stroke="#4a4a4a" stroke-width="0.45"/><circle cx="445.4" cy="195.0" r="4.9" fill="url(#pg2)" stroke="#4a4a4a" stroke-width="0.45"/><circle cx="433.2" cy="200.1" r="5.6" fill="url(#pg)" stroke="#4a4a4a" stroke-width="0.45"/><circle cx="434.2" cy="211.2" r="8.9" fill="url(#pg)" stroke="#4a4a4a" stroke-width="0.45"/><circle cx="453.5" cy="205.1" r="6.2" fill="url(#pg2)" stroke="#4a4a4a" stroke-width="0.45"/><circle cx="460.6" cy="215.3" r="6.2" fill="url(#pg)" stroke="#4a4a4a" stroke-width="0.45"/><circle cx="467.7" cy="209.2" r="4.9" fill="url(#pg)" stroke="#4a4a4a" stroke-width="0.45"/><circle cx="479.8" cy="213.2" r="6.7" fill="url(#pg)" stroke="#4a4a4a" stroke-width="0.45"/><circle cx="490.0" cy="215.3" r="5.6" fill="url(#pg)" stroke="#4a4a4a" stroke-width="0.45"/><circle cx="500.1" cy="209.2" r="5.6" fill="url(#pg)" stroke="#4a4a4a" stroke-width="0.45"/><circle cx="510.2" cy="215.3" r="6.7" fill="url(#pg)" stroke="#4a4a4a" stroke-width="0.45"/><circle cx="518.3" cy="211.2" r="5.6" fill="url(#pg)" stroke="#4a4a4a" stroke-width="0.45"/><circle cx="421.1" cy="207.2" r="4.5" fill="url(#pg2)" stroke="#4a4a4a" stroke-width="0.45"/><circle cx="443.3" cy="219.3" r="5.6" fill="url(#pg)" stroke="#4a4a4a" stroke-width="0.45"/><circle cx="471.7" cy="221.3" r="4.9" fill="url(#pg)" stroke="#4a4a4a" stroke-width="0.45"/><circle cx="498.1" cy="221.3" r="4.9" fill="url(#pg)" stroke="#4a4a4a" stroke-width="0.45"/><ellipse cx="388.3" cy="88.3" rx="7.6" ry="4.4" transform="rotate(10 388.3 88.3)" fill="url(#pg2)"/></g><rect x="323" y="200.3" width="26.2" height="2.6" fill="#fff"/><text x="336.1" y="210.8" font-family="Liberation Sans, sans-serif" font-weight="bold" font-size="7.5" fill="#f4f4f4" text-anchor="middle">200 nm</text></g>
<rect x="590.85" y="156.76" width="11.59" height="24.24" fill="#808080"/>
<rect x="603.74" y="104.24" width="11.59" height="76.76" fill="#808080"/>
<rect x="616.62" y="80.00" width="11.59" height="101.00" fill="#808080"/>
<rect x="629.51" y="39.60" width="11.59" height="141.40" fill="#808080"/>
<rect x="642.39" y="88.08" width="11.59" height="92.92" fill="#808080"/>
<rect x="655.28" y="128.48" width="11.59" height="52.52" fill="#808080"/>
<rect x="668.16" y="144.64" width="11.59" height="36.36" fill="#808080"/>
<path d="M596.63,154.33 C596.84,153.36 597.49,150.41 597.92,148.50 C598.35,146.59 598.78,144.71 599.21,142.87 C599.64,141.02 600.07,139.21 600.50,137.43 C600.93,135.65 601.35,133.91 601.78,132.19 C602.21,130.48 602.64,128.80 603.07,127.16 C603.50,125.51 603.93,123.90 604.36,122.32 C604.79,120.74 605.22,119.19 605.65,117.68 C606.08,116.17 606.51,114.69 606.94,113.24 C607.37,111.79 607.80,110.38 608.23,109.00 C608.66,107.62 609.09,106.27 609.52,104.96 C609.95,103.64 610.37,102.36 610.80,101.11 C611.23,99.86 611.66,98.65 612.09,97.47 C612.52,96.29 612.95,95.14 613.38,94.02 C613.81,92.91 614.24,91.82 614.67,90.77 C615.10,89.73 615.53,88.71 615.96,87.73 C616.39,86.74 616.82,85.79 617.25,84.88 C617.68,83.96 618.11,83.08 618.54,82.23 C618.97,81.38 619.39,80.56 619.82,79.77 C620.25,78.99 620.68,78.24 621.11,77.52 C621.54,76.80 621.97,76.12 622.40,75.47 C622.83,74.82 623.26,74.20 623.69,73.61 C624.12,73.03 624.55,72.47 624.98,71.96 C625.41,71.44 625.84,70.95 626.27,70.50 C626.70,70.05 627.13,69.63 627.56,69.24 C627.99,68.85 628.41,68.50 628.84,68.18 C629.27,67.86 629.70,67.57 630.13,67.32 C630.56,67.06 630.99,66.84 631.42,66.66 C631.85,66.47 632.28,66.31 632.71,66.19 C633.14,66.07 633.57,65.98 634.00,65.93 C634.43,65.87 634.86,65.85 635.29,65.86 C635.72,65.87 636.15,65.92 636.58,66.00 C637.01,66.07 637.43,66.18 637.86,66.33 C638.29,66.47 638.72,66.65 639.15,66.86 C639.58,67.07 640.01,67.31 640.44,67.59 C640.87,67.87 641.30,68.17 641.73,68.52 C642.16,68.86 642.59,69.24 643.02,69.64 C643.45,70.05 643.88,70.50 644.31,70.97 C644.74,71.45 645.17,71.95 645.60,72.50 C646.03,73.04 646.45,73.61 646.88,74.22 C647.31,74.83 647.74,75.47 648.17,76.14 C648.60,76.82 649.03,77.52 649.46,78.27 C649.89,79.01 650.32,79.78 650.75,80.59 C651.18,81.39 651.61,82.23 652.04,83.11 C652.47,83.98 652.90,84.88 653.33,85.82 C653.76,86.76 654.19,87.73 654.62,88.74 C655.05,89.75 655.47,90.78 655.90,91.86 C656.33,92.93 656.76,94.03 657.19,95.17 C657.62,96.31 658.05,97.48 658.48,98.68 C658.91,99.89 659.34,101.13 659.77,102.40 C660.20,103.67 660.63,104.97 661.06,106.31 C661.49,107.65 661.92,109.02 662.35,110.42 C662.78,111.82 663.21,113.26 663.64,114.73 C664.07,116.20 664.49,117.70 664.92,119.24 C665.35,120.77 665.78,122.34 666.21,123.94 C666.64,125.54 667.07,127.18 667.50,128.85 C667.93,130.52 668.36,132.22 668.79,133.95 C669.22,135.69 669.65,137.46 670.08,139.26 C670.51,141.06 670.94,142.89 671.37,144.76 C671.80,146.63 672.23,148.53 672.66,150.46 C673.09,152.39 673.73,155.38 673.94,156.36" fill="none" stroke="#4a78cc" stroke-width="0.95" stroke-dasharray="0.9 1.5"/>
<path d="M590.2,19.4 H680.4 V181.3" fill="none" stroke="#1a1a1a" stroke-width="1.1"/>
<line x1="589.7" y1="181.3" x2="680.9" y2="181.3" stroke="#333" stroke-width="1.2"/>
<line x1="590.2" y1="181.0" x2="590.2" y2="19.4" stroke="#555" stroke-width="1.1"/>
<line x1="585.9000000000001" y1="181.0" x2="590.2" y2="181.0" stroke="#888" stroke-width="0.9"/>
<text x="578.3" y="185.3" font-family="Liberation Sans, sans-serif" font-size="13.3" fill="#111" class="t" text-anchor="end">0</text>
<line x1="585.9000000000001" y1="140.6" x2="590.2" y2="140.6" stroke="#888" stroke-width="0.9"/>
<text x="578.3" y="144.9" font-family="Liberation Sans, sans-serif" font-size="13.3" fill="#111" class="t" text-anchor="end">10</text>
<line x1="585.9000000000001" y1="100.2" x2="590.2" y2="100.2" stroke="#888" stroke-width="0.9"/>
<text x="578.3" y="104.5" font-family="Liberation Sans, sans-serif" font-size="13.3" fill="#111" class="t" text-anchor="end">20</text>
<line x1="585.9000000000001" y1="59.8" x2="590.2" y2="59.8" stroke="#888" stroke-width="0.9"/>
<text x="578.3" y="64.1" font-family="Liberation Sans, sans-serif" font-size="13.3" fill="#111" class="t" text-anchor="end">30</text>
<line x1="585.9000000000001" y1="19.4" x2="590.2" y2="19.4" stroke="#888" stroke-width="0.9"/>
<text x="578.3" y="23.7" font-family="Liberation Sans, sans-serif" font-size="13.3" fill="#111" class="t" text-anchor="end">40</text>
<line x1="590.2" y1="181.0" x2="590.2" y2="185.0" stroke="#888" stroke-width="0.9"/>
<line x1="603.1" y1="181.0" x2="603.1" y2="185.0" stroke="#888" stroke-width="0.9"/>
<line x1="616.0" y1="181.0" x2="616.0" y2="185.0" stroke="#888" stroke-width="0.9"/>
<line x1="628.9" y1="181.0" x2="628.9" y2="185.0" stroke="#888" stroke-width="0.9"/>
<line x1="641.7" y1="181.0" x2="641.7" y2="185.0" stroke="#888" stroke-width="0.9"/>
<line x1="654.6" y1="181.0" x2="654.6" y2="185.0" stroke="#888" stroke-width="0.9"/>
<line x1="667.5" y1="181.0" x2="667.5" y2="185.0" stroke="#888" stroke-width="0.9"/>
<line x1="680.4" y1="181.0" x2="680.4" y2="185.0" stroke="#888" stroke-width="0.9"/>
<text x="596.6" y="201" font-family="Liberation Sans, sans-serif" font-size="13.3" fill="#111" class="t" text-anchor="middle">40</text>
<text x="622.4" y="201" font-family="Liberation Sans, sans-serif" font-size="13.3" fill="#111" class="t" text-anchor="middle">60</text>
<text x="648.2" y="201" font-family="Liberation Sans, sans-serif" font-size="13.3" fill="#111" class="t" text-anchor="middle">80</text>
<text x="674.0" y="201" font-family="Liberation Sans, sans-serif" font-size="13.3" fill="#111" class="t" text-anchor="middle">100</text>
<text x="635.6" y="218.2" font-family="Liberation Sans, sans-serif" font-weight="bold" font-size="13.3" fill="#111" class="t" text-anchor="middle">Size (nm)</text>
<text transform="translate(558.8 100.4) rotate(-90)" x="0" y="0" font-family="Liberation Sans, sans-serif" font-weight="bold" font-size="13.35" fill="#111" class="t" text-anchor="middle">%Size frequency (%)</text>
<line x1="59.0" y1="278.3" x2="259.5" y2="278.3" stroke="#6a6a6a" stroke-width="1"/>
<line x1="259.5" y1="278.3" x2="259.5" y2="467.0" stroke="#6a6a6a" stroke-width="1"/>
<line x1="59.0" y1="467.0" x2="259.5" y2="467.0" stroke="#8c8c8c" stroke-width="1.4"/>
<line x1="59.0" y1="467.0" x2="59.0" y2="278.3" stroke="#a8a8a8" stroke-width="1.8"/>
<line x1="55.0" y1="467.0" x2="59.0" y2="467.0" stroke="#b0b0b0" stroke-width="1"/>
<text x="46.9" y="470.8" font-family="Liberation Sans, sans-serif" font-size="13.3" fill="#111" class="t" text-anchor="end">0</text>
<line x1="55.0" y1="404.1" x2="59.0" y2="404.1" stroke="#b0b0b0" stroke-width="1"/>
<text x="46.9" y="407.9" font-family="Liberation Sans, sans-serif" font-size="13.3" fill="#111" class="t" text-anchor="end">0.4</text>
<line x1="55.0" y1="341.2" x2="59.0" y2="341.2" stroke="#b0b0b0" stroke-width="1"/>
<text x="46.9" y="345.0" font-family="Liberation Sans, sans-serif" font-size="13.3" fill="#111" class="t" text-anchor="end">0.8</text>
<line x1="55.0" y1="278.3" x2="59.0" y2="278.3" stroke="#b0b0b0" stroke-width="1"/>
<text x="46.9" y="282.1" font-family="Liberation Sans, sans-serif" font-size="13.3" fill="#111" class="t" text-anchor="end">1.2</text>
<line x1="59.0" y1="467.0" x2="59.0" y2="471.0" stroke="#b0b0b0" stroke-width="1"/>
<text x="59.0" y="487.3" font-family="Liberation Sans, sans-serif" font-size="13.3" fill="#111" class="t" text-anchor="middle">400</text>
<line x1="125.8" y1="467.0" x2="125.8" y2="471.0" stroke="#b0b0b0" stroke-width="1"/>
<text x="125.8" y="487.3" font-family="Liberation Sans, sans-serif" font-size="13.3" fill="#111" class="t" text-anchor="middle">600</text>
<line x1="192.7" y1="467.0" x2="192.7" y2="471.0" stroke="#b0b0b0" stroke-width="1"/>
<text x="192.7" y="487.3" font-family="Liberation Sans, sans-serif" font-size="13.3" fill="#111" class="t" text-anchor="middle">800</text>
<line x1="259.5" y1="467.0" x2="259.5" y2="471.0" stroke="#b0b0b0" stroke-width="1"/>
<text x="259.5" y="487.3" font-family="Liberation Sans, sans-serif" font-size="13.3" fill="#111" class="t" text-anchor="middle">1000</text>
<text x="158.9" y="504.4" font-family="Liberation Sans, sans-serif" font-weight="bold" font-size="13.3" fill="#111" class="t" text-anchor="middle">λ (nm)</text>
<text transform="translate(17.7 378.6) rotate(-90)" font-family="Liberation Sans, sans-serif" font-weight="bold" font-size="13.3" fill="#111" class="t" text-anchor="middle">Absorbance (A.U.)</text>
<g clip-path="url(#dclip)"><path d="M58.90,287.90 C60.22,290.52 64.17,298.35 66.80,303.60 C69.43,308.85 71.73,313.48 74.70,319.40 C77.67,325.32 81.32,333.52 84.60,339.10 C87.88,344.68 90.80,348.47 94.40,352.90 C98.00,357.33 102.10,361.27 106.20,365.70 C110.30,370.13 115.03,375.52 119.00,379.50 C122.97,383.48 126.60,386.28 130.00,389.60 C133.40,392.92 135.73,396.07 139.40,399.40 C143.07,402.73 147.00,405.93 152.00,409.60 C157.00,413.27 163.88,418.12 169.40,421.40 C174.92,424.68 179.90,426.77 185.10,429.30 C190.30,431.83 195.37,434.35 200.60,436.60 C205.83,438.85 210.90,440.88 216.50,442.80 C222.10,444.72 227.12,446.42 234.20,448.10 C241.28,449.78 254.87,452.10 259.00,452.90" fill="none" stroke="#9e5b16" stroke-width="1.9"/>
<path d="M59.10,449.60 C59.80,450.02 61.68,451.37 63.30,452.10 C64.92,452.83 66.50,453.45 68.80,454.00 C71.10,454.55 74.80,454.93 77.10,455.40 C79.40,455.87 80.53,456.38 82.60,456.80 C84.67,457.22 87.22,457.67 89.50,457.90 C91.78,458.13 93.55,458.25 96.30,458.20 C99.05,458.15 102.78,458.12 106.00,457.60 C109.22,457.08 112.62,456.08 115.60,455.10 C118.58,454.12 121.13,453.30 123.90,451.70 C126.67,450.10 129.77,447.73 132.20,445.50 C134.63,443.27 136.30,440.97 138.50,438.30 C140.70,435.63 143.15,433.37 145.40,429.50 C147.65,425.63 150.37,419.60 152.00,415.10 C153.63,410.60 154.02,406.70 155.20,402.50 C156.38,398.30 157.65,393.37 159.10,389.90 C160.55,386.43 162.18,382.70 163.90,381.70 C165.62,380.70 167.83,384.37 169.40,383.90 C170.97,383.43 172.25,381.57 173.30,378.90 C174.35,376.23 174.98,371.92 175.70,367.90 C176.42,363.88 176.77,360.65 177.60,354.80 C178.43,348.95 179.78,339.35 180.70,332.80 C181.62,326.25 182.32,319.12 183.10,315.50 C183.88,311.88 184.67,311.23 185.40,311.10 C186.13,310.97 186.83,312.13 187.50,314.70 C188.17,317.27 188.77,321.12 189.40,326.50 C190.03,331.88 190.70,338.80 191.30,347.00 C191.90,355.20 192.32,366.97 193.00,375.70 C193.68,384.43 194.62,392.05 195.40,399.40 C196.18,406.75 196.78,413.50 197.70,419.80 C198.62,426.10 199.97,433.52 200.90,437.20 C201.83,440.88 201.87,439.48 203.30,441.90 C204.73,444.32 207.00,449.48 209.50,451.70 C212.00,453.92 215.20,454.40 218.30,455.20 C221.40,456.00 225.30,456.50 228.10,456.50 C230.90,456.50 233.05,456.00 235.10,455.20 C237.15,454.40 238.77,453.47 240.40,451.70 C242.03,449.93 243.12,446.17 244.90,444.60 C246.68,443.03 249.33,442.50 251.10,442.30 C252.87,442.10 254.12,442.93 255.50,443.40 C256.88,443.87 258.75,444.82 259.40,445.10" fill="none" stroke="#92d050" stroke-width="1.9"/>
<path d="M58.90,297.30 C60.22,299.02 64.17,303.27 66.80,307.60 C69.43,311.93 71.73,317.72 74.70,323.30 C77.67,328.88 81.32,336.00 84.60,341.10 C87.88,346.20 91.12,350.28 94.40,353.90 C97.68,357.52 101.02,359.85 104.30,362.80 C107.58,365.75 111.15,369.47 114.10,371.60 C117.05,373.73 119.20,374.72 122.00,375.60 C124.80,376.48 128.52,377.00 130.90,376.90 C133.28,376.80 134.35,376.37 136.30,375.00 C138.25,373.63 140.63,371.20 142.60,368.70 C144.57,366.20 145.55,364.15 148.10,360.00 C150.65,355.85 154.97,348.47 157.90,343.80 C160.83,339.13 163.47,334.57 165.70,332.00 C167.93,329.43 169.58,328.92 171.30,328.40 C173.02,327.88 174.43,328.82 176.00,328.90 C177.57,328.98 179.13,329.57 180.70,328.90 C182.27,328.23 183.70,327.80 185.40,324.90 C187.10,322.00 189.05,314.85 190.90,311.50 C192.75,308.15 194.92,305.58 196.50,304.80 C198.08,304.02 199.10,305.28 200.40,306.80 C201.70,308.32 202.98,309.83 204.30,313.90 C205.62,317.97 206.98,323.85 208.30,331.20 C209.62,338.55 211.15,350.92 212.20,358.00 C213.25,365.08 213.58,366.50 214.60,373.70 C215.62,380.90 216.95,393.37 218.30,401.20 C219.65,409.03 221.07,414.93 222.70,420.70 C224.33,426.47 225.88,431.97 228.10,435.80 C230.32,439.63 233.20,441.65 236.00,443.70 C238.80,445.75 241.07,446.62 244.90,448.10 C248.73,449.58 256.65,451.85 259.00,452.60" fill="none" stroke="#17979c" stroke-width="1.9"/></g>
<defs><clipPath id="dclip"><rect x="59.0" y="278.3" width="201.5" height="188.7"/></clipPath><clipPath id="eclip"><rect x="389.2" y="277.5" width="179" height="189.5"/></clipPath></defs>
<line x1="389.2" y1="277.5" x2="567.5" y2="277.5" stroke="#555" stroke-width="1"/>
<line x1="567.5" y1="277.5" x2="567.5" y2="466.4" stroke="#555" stroke-width="1"/>
<line x1="389.2" y1="466.4" x2="389.2" y2="277.5" stroke="#8c8c8c" stroke-width="1.3"/>
<line x1="385.0" y1="466.4" x2="389.2" y2="466.4" stroke="#999" stroke-width="1"/>
<text x="376.8" y="470.5" font-family="Liberation Sans, sans-serif" font-size="13.3" fill="#111" class="t" text-anchor="end">0</text>
<line x1="385.0" y1="424.4" x2="389.2" y2="424.4" stroke="#999" stroke-width="1"/>
<text x="376.8" y="428.5" font-family="Liberation Sans, sans-serif" font-size="13.3" fill="#111" class="t" text-anchor="end">4000</text>
<line x1="385.0" y1="382.4" x2="389.2" y2="382.4" stroke="#999" stroke-width="1"/>
<text x="376.8" y="386.5" font-family="Liberation Sans, sans-serif" font-size="13.3" fill="#111" class="t" text-anchor="end">8000</text>
<line x1="385.0" y1="340.4" x2="389.2" y2="340.4" stroke="#999" stroke-width="1"/>
<text x="376.8" y="344.5" font-family="Liberation Sans, sans-serif" font-size="13.3" fill="#111" class="t" text-anchor="end">12000</text>
<line x1="385.0" y1="298.4" x2="389.2" y2="298.4" stroke="#999" stroke-width="1"/>
<text x="376.8" y="302.5" font-family="Liberation Sans, sans-serif" font-size="13.3" fill="#111" class="t" text-anchor="end">16000</text>
<line x1="389.2" y1="466.4" x2="389.2" y2="470.59999999999997" stroke="#999" stroke-width="1"/>
<text x="389.2" y="487.3" font-family="Liberation Sans, sans-serif" font-size="13.3" fill="#111" class="t" text-anchor="middle">680</text>
<line x1="428.8" y1="466.4" x2="428.8" y2="470.59999999999997" stroke="#999" stroke-width="1"/>
<text x="428.8" y="487.3" font-family="Liberation Sans, sans-serif" font-size="13.3" fill="#111" class="t" text-anchor="middle">720</text>
<line x1="468.4" y1="466.4" x2="468.4" y2="470.59999999999997" stroke="#999" stroke-width="1"/>
<text x="468.4" y="487.3" font-family="Liberation Sans, sans-serif" font-size="13.3" fill="#111" class="t" text-anchor="middle">760</text>
<line x1="508.1" y1="466.4" x2="508.1" y2="470.59999999999997" stroke="#999" stroke-width="1"/>
<text x="508.1" y="487.3" font-family="Liberation Sans, sans-serif" font-size="13.3" fill="#111" class="t" text-anchor="middle">800</text>
<line x1="547.7" y1="466.4" x2="547.7" y2="470.59999999999997" stroke="#999" stroke-width="1"/>
<text x="547.7" y="487.3" font-family="Liberation Sans, sans-serif" font-size="13.3" fill="#111" class="t" text-anchor="middle">840</text>
<text x="478.3" y="504.4" font-family="Liberation Sans, sans-serif" font-weight="bold" font-size="13.3" fill="#111" class="t" text-anchor="middle">λ (nm)</text>
<text transform="translate(334.2 371.5) rotate(-90)" font-family="Liberation Sans, sans-serif" font-weight="bold" font-size="13.3" fill="#111" class="t" text-anchor="middle">Fluorescence (R.F.U.)</text>
<g clip-path="url(#eclip)"><line x1="389.2" y1="466.4" x2="567.5" y2="466.4" stroke="#9e5b16" stroke-width="1.6"/>
<path d="M389.30,466.00 C390.75,465.72 394.93,464.77 398.00,464.30 C401.07,463.83 404.45,463.17 407.70,463.20 C410.95,463.23 414.07,464.03 417.50,464.50 C420.93,464.97 424.55,465.70 428.30,466.00 C432.05,466.30 436.40,466.37 440.00,466.30 C443.60,466.23 446.80,466.18 449.90,465.60 C453.00,465.02 456.25,463.73 458.60,462.80 C460.95,461.87 462.35,461.22 464.00,460.00 C465.65,458.78 467.08,457.20 468.50,455.50 C469.92,453.80 471.25,451.63 472.50,449.80 C473.75,447.97 474.33,447.80 476.00,444.50 C477.67,441.20 480.50,434.98 482.50,430.00 C484.50,425.02 486.15,420.90 488.00,414.60 C489.85,408.30 491.72,400.30 493.60,392.20 C495.48,384.10 497.42,374.73 499.30,366.00 C501.18,357.27 503.03,347.90 504.90,339.80 C506.77,331.70 508.63,323.93 510.50,317.40 C512.37,310.87 514.68,304.33 516.10,300.60 C517.52,296.87 518.02,296.52 519.00,295.00 C519.98,293.48 520.88,292.25 522.00,291.50 C523.12,290.75 524.45,290.18 525.70,290.50 C526.95,290.82 528.13,292.12 529.50,293.40 C530.87,294.68 532.27,295.77 533.90,298.20 C535.53,300.63 537.50,305.48 539.30,308.00 C541.10,310.52 542.72,311.27 544.70,313.30 C546.68,315.33 549.22,318.57 551.20,320.20 C553.18,321.83 555.15,322.73 556.60,323.10 C558.05,323.47 559.00,322.30 559.90,322.40 C560.80,322.50 560.70,323.23 562.00,323.70 C563.30,324.17 566.75,324.95 567.70,325.20" fill="none" stroke="#92d050" stroke-width="1.8"/>
<path d="M389.30,416.70 L389.63,415.72 L390.07,414.55 L390.58,413.48 L391.16,411.90 L391.78,410.35 L392.43,409.11 L393.07,408.06 L393.70,406.71 L394.33,405.53 L394.98,404.03 L395.65,403.16 L396.34,401.91 L397.03,400.78 L397.73,399.69 L398.42,398.74 L399.10,398.20 L399.78,397.07 L400.45,395.96 L401.12,394.85 L401.80,393.34 L402.48,392.38 L403.15,391.63 L403.83,390.82 L404.50,390.15 L405.18,389.51 L405.88,388.39 L406.57,388.26 L407.27,387.89 L407.96,387.43 L408.63,386.93 L409.28,386.92 L409.90,386.51 L410.48,387.00 L411.03,386.87 L411.54,386.63 L412.05,386.50 L412.56,387.08 L413.07,387.12 L413.62,387.77 L414.20,388.34 L414.82,388.91 L415.47,389.84 L416.14,391.13 L416.83,392.29 L417.53,393.46 L418.22,394.97 L418.92,396.74 L419.60,397.58 L420.28,398.98 L420.95,400.84 L421.62,402.10 L422.30,403.81 L422.98,405.31 L423.65,406.74 L424.33,408.70 L425.00,409.59 L425.67,411.16 L426.32,412.42 L426.98,414.12 L427.63,415.25 L428.29,416.66 L428.97,418.25 L429.67,419.24 L430.40,420.64 L431.14,422.09 L431.90,422.70 L432.66,423.82 L433.44,425.05 L434.25,426.49 L435.09,427.41 L435.97,428.11 L436.90,429.08 L437.88,429.81 L438.92,430.77 L440.01,431.18 L441.12,432.30 L442.25,433.07 L443.38,433.71 L444.50,434.16 L445.60,434.92 L446.66,434.87 L447.71,435.65 L448.74,436.70 L449.77,437.13 L450.82,437.42 L451.90,438.32 L453.02,438.60 L454.20,439.22 L455.45,439.32 L456.76,439.69 L458.12,440.29 L459.51,440.48 L460.91,441.04 L462.30,441.82 L463.67,441.74 L465.00,441.86 L466.27,442.20 L467.50,442.56 L468.71,443.25 L469.91,443.20 L471.12,443.39 L472.36,443.51 L473.65,444.42 L475.00,444.35 L476.44,444.56 L477.95,444.84 L479.51,445.25 L481.09,445.75 L482.69,446.54 L484.27,446.60 L485.81,446.96 L487.30,447.69 L488.73,447.94 L490.13,448.89 L491.49,448.71 L492.84,449.42 L494.18,450.01 L495.51,450.17 L496.85,450.97 L498.20,450.98 L499.55,451.17 L500.91,451.61 L502.26,451.65 L503.61,452.22 L504.95,452.39 L506.30,453.14 L507.65,453.41 L509.00,453.50 L510.33,453.53 L511.65,454.06 L512.95,454.44 L514.26,454.81 L515.59,455.21 L516.95,456.02 L518.34,455.85 L519.80,456.09 L521.32,456.97 L522.90,456.98 L524.51,457.51 L526.16,457.32 L527.83,457.86 L529.50,457.83 L531.16,458.04 L532.80,458.07 L534.44,457.90 L536.10,457.57 L537.77,457.55 L539.44,457.89 L541.09,457.75 L542.70,457.61 L544.28,457.03 L545.80,457.11 L547.26,457.07 L548.65,456.80 L550.01,456.76 L551.34,456.39 L552.65,456.31 L553.95,456.16 L555.27,455.70 L556.60,456.00 L558.02,455.85 L559.55,455.05 L561.12,455.49 L562.68,455.29 L564.14,454.91 L565.46,454.31 L566.57,454.78 L567.40,454.40" fill="none" stroke="#17979c" stroke-width="1.8" stroke-linejoin="round"/></g>
<line x1="603" y1="294.9" x2="616.8" y2="294.9" stroke="#9e5b16" stroke-width="2"/>
<text x="617.6" y="298.9" font-family="Liberation Sans, sans-serif" font-size="13.3" fill="#111" class="t">PDA</text>
<line x1="603" y1="313.9" x2="616.8" y2="313.9" stroke="#92d050" stroke-width="2"/>
<text x="617.6" y="317.9" font-family="Liberation Sans, sans-serif" font-size="13.3" fill="#111" class="t">ICG</text>
<line x1="603" y1="332.9" x2="616.8" y2="332.9" stroke="#17979c" stroke-width="2"/>
<text x="617.6" y="336.9" font-family="Liberation Sans, sans-serif" font-size="13.3" fill="#111" class="t">PDA-ICG</text>
</svg></body></html>
